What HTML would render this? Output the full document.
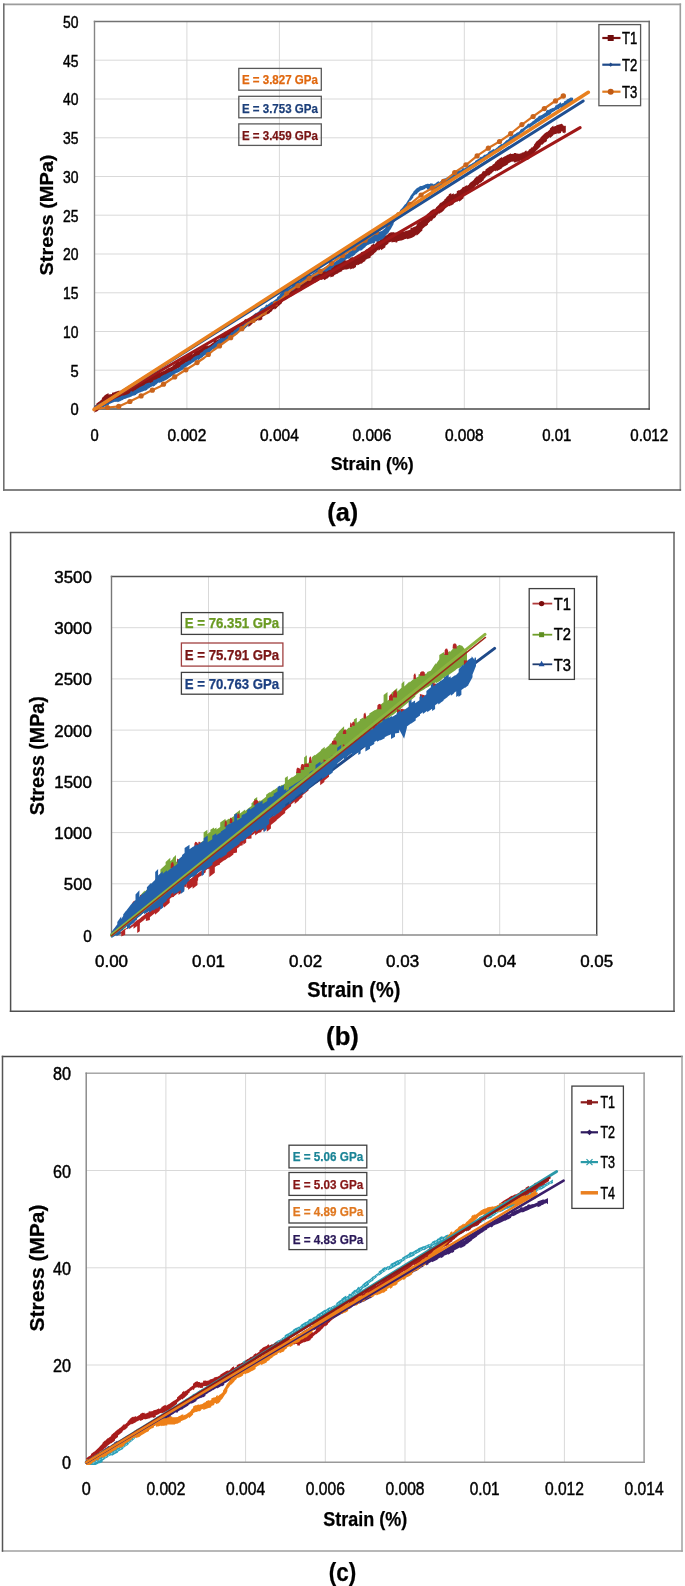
<!DOCTYPE html>
<html><head><meta charset="utf-8"><style>
html,body{margin:0;padding:0;background:#fff;width:685px;height:1586px;overflow:hidden}
text{font-family:"Liberation Sans", sans-serif}
</style></head><body>
<svg width="685" height="1586" viewBox="0 0 685 1586" style="position:absolute;left:0;top:0;filter:blur(0.45px)">
<defs><clipPath id="clipA"><rect x="92" y="21" width="560" height="392"/></clipPath><clipPath id="clipB"><rect x="109" y="576" width="490" height="362"/></clipPath><clipPath id="clipC"><rect x="84" y="1073" width="562" height="392"/></clipPath></defs>
<g font-family='"Liberation Sans", sans-serif'>
<line x1="3.0" y1="4.4" x2="681.1" y2="4.4" stroke="#9c9c9c" stroke-width="1.6"/>
<line x1="680.3" y1="3.6" x2="680.3" y2="490.8" stroke="#9c9c9c" stroke-width="1.6"/>
<line x1="3.0" y1="490.0" x2="681.1" y2="490.0" stroke="#5a5a5a" stroke-width="1.6"/>
<line x1="3.8" y1="3.6" x2="3.8" y2="490.8" stroke="#707070" stroke-width="1.6"/>
<line x1="94.5" y1="370.2" x2="649.2" y2="370.2" stroke="#d9d9d9" stroke-width="1"/>
<line x1="94.5" y1="331.5" x2="649.2" y2="331.5" stroke="#d9d9d9" stroke-width="1"/>
<line x1="94.5" y1="292.8" x2="649.2" y2="292.8" stroke="#d9d9d9" stroke-width="1"/>
<line x1="94.5" y1="254.0" x2="649.2" y2="254.0" stroke="#d9d9d9" stroke-width="1"/>
<line x1="94.5" y1="215.2" x2="649.2" y2="215.2" stroke="#d9d9d9" stroke-width="1"/>
<line x1="94.5" y1="176.5" x2="649.2" y2="176.5" stroke="#d9d9d9" stroke-width="1"/>
<line x1="94.5" y1="137.8" x2="649.2" y2="137.8" stroke="#d9d9d9" stroke-width="1"/>
<line x1="94.5" y1="99.0" x2="649.2" y2="99.0" stroke="#d9d9d9" stroke-width="1"/>
<line x1="94.5" y1="60.2" x2="649.2" y2="60.2" stroke="#d9d9d9" stroke-width="1"/>
<line x1="94.5" y1="21.5" x2="649.2" y2="21.5" stroke="#d9d9d9" stroke-width="1"/>
<line x1="186.9" y1="21.5" x2="186.9" y2="409.0" stroke="#d9d9d9" stroke-width="1"/>
<line x1="279.4" y1="21.5" x2="279.4" y2="409.0" stroke="#d9d9d9" stroke-width="1"/>
<line x1="371.9" y1="21.5" x2="371.9" y2="409.0" stroke="#d9d9d9" stroke-width="1"/>
<line x1="464.3" y1="21.5" x2="464.3" y2="409.0" stroke="#d9d9d9" stroke-width="1"/>
<line x1="556.8" y1="21.5" x2="556.8" y2="409.0" stroke="#d9d9d9" stroke-width="1"/>
<line x1="649.2" y1="21.5" x2="649.2" y2="409.0" stroke="#d9d9d9" stroke-width="1"/>
<line x1="93.8" y1="21.5" x2="649.9" y2="21.5" stroke="#727272" stroke-width="1.4"/>
<line x1="649.2" y1="20.8" x2="649.2" y2="409.7" stroke="#666666" stroke-width="1.4"/>
<line x1="93.8" y1="409.0" x2="649.9" y2="409.0" stroke="#4a4a4a" stroke-width="1.4"/>
<line x1="94.5" y1="20.8" x2="94.5" y2="409.7" stroke="#858585" stroke-width="1.4"/>
<text x="94.5" y="441.2" font-size="15.8" fill="#000" stroke="#000" stroke-width="0.45" text-anchor="middle" textLength="8.2" lengthAdjust="spacingAndGlyphs" >0</text>
<text x="186.9" y="441.2" font-size="15.8" fill="#000" stroke="#000" stroke-width="0.45" text-anchor="middle" textLength="38.8" lengthAdjust="spacingAndGlyphs" >0.002</text>
<text x="279.4" y="441.2" font-size="15.8" fill="#000" stroke="#000" stroke-width="0.45" text-anchor="middle" textLength="38.8" lengthAdjust="spacingAndGlyphs" >0.004</text>
<text x="371.9" y="441.2" font-size="15.8" fill="#000" stroke="#000" stroke-width="0.45" text-anchor="middle" textLength="38.8" lengthAdjust="spacingAndGlyphs" >0.006</text>
<text x="464.3" y="441.2" font-size="15.8" fill="#000" stroke="#000" stroke-width="0.45" text-anchor="middle" textLength="38.8" lengthAdjust="spacingAndGlyphs" >0.008</text>
<text x="556.8" y="441.2" font-size="15.8" fill="#000" stroke="#000" stroke-width="0.45" text-anchor="middle" textLength="29.1" lengthAdjust="spacingAndGlyphs" >0.01</text>
<text x="649.2" y="441.2" font-size="15.8" fill="#000" stroke="#000" stroke-width="0.45" text-anchor="middle" textLength="37.8" lengthAdjust="spacingAndGlyphs" >0.012</text>
<text x="78.6" y="415.4" font-size="15.8" fill="#000" stroke="#000" stroke-width="0.45" text-anchor="end" textLength="8.2" lengthAdjust="spacingAndGlyphs" >0</text>
<text x="78.6" y="376.6" font-size="15.8" fill="#000" stroke="#000" stroke-width="0.45" text-anchor="end" textLength="8.2" lengthAdjust="spacingAndGlyphs" >5</text>
<text x="78.6" y="337.9" font-size="15.8" fill="#000" stroke="#000" stroke-width="0.45" text-anchor="end" textLength="15.5" lengthAdjust="spacingAndGlyphs" >10</text>
<text x="78.6" y="299.1" font-size="15.8" fill="#000" stroke="#000" stroke-width="0.45" text-anchor="end" textLength="15.5" lengthAdjust="spacingAndGlyphs" >15</text>
<text x="78.6" y="260.4" font-size="15.8" fill="#000" stroke="#000" stroke-width="0.45" text-anchor="end" textLength="15.5" lengthAdjust="spacingAndGlyphs" >20</text>
<text x="78.6" y="221.6" font-size="15.8" fill="#000" stroke="#000" stroke-width="0.45" text-anchor="end" textLength="15.5" lengthAdjust="spacingAndGlyphs" >25</text>
<text x="78.6" y="182.9" font-size="15.8" fill="#000" stroke="#000" stroke-width="0.45" text-anchor="end" textLength="15.5" lengthAdjust="spacingAndGlyphs" >30</text>
<text x="78.6" y="144.1" font-size="15.8" fill="#000" stroke="#000" stroke-width="0.45" text-anchor="end" textLength="15.5" lengthAdjust="spacingAndGlyphs" >35</text>
<text x="78.6" y="105.4" font-size="15.8" fill="#000" stroke="#000" stroke-width="0.45" text-anchor="end" textLength="15.5" lengthAdjust="spacingAndGlyphs" >40</text>
<text x="78.6" y="66.6" font-size="15.8" fill="#000" stroke="#000" stroke-width="0.45" text-anchor="end" textLength="15.5" lengthAdjust="spacingAndGlyphs" >45</text>
<text x="78.6" y="27.9" font-size="15.8" fill="#000" stroke="#000" stroke-width="0.45" text-anchor="end" textLength="15.5" lengthAdjust="spacingAndGlyphs" >50</text>
<text x="372.2" y="470.4" font-size="19.2" fill="#000" stroke="#000" stroke-width="0.25" font-weight="bold" text-anchor="middle" textLength="83" lengthAdjust="spacingAndGlyphs" >Strain (%)</text>
<text x="52.6" y="215.0" font-size="19.0" fill="#000" stroke="#000" stroke-width="0.25" font-weight="bold" text-anchor="middle" textLength="121" lengthAdjust="spacingAndGlyphs" transform="rotate(-90 52.6 215.0)" >Stress (MPa)</text>
<text x="342.7" y="520.8" font-size="25" fill="#000" stroke="#000" stroke-width="0.25" font-weight="bold" text-anchor="middle" textLength="31" lengthAdjust="spacingAndGlyphs" >(a)</text>
<g clip-path="url(#clipA)">
<polygon points="94.5,406.1 96.3,404.7 96.3,403.7 98.8,401.8 98.8,402.0 101.9,399.3 101.9,398.1 103.9,396.3 103.9,395.9 106.5,394.1 106.5,394.3 108.5,393.1 108.5,394.5 112.0,393.9 112.0,392.7 114.7,392.3 114.7,391.9 117.2,391.2 117.2,391.2 119.5,390.5 119.5,392.5 121.2,391.9 121.2,391.4 123.8,390.6 123.8,389.5 125.7,388.8 125.7,390.2 127.7,389.1 127.7,390.1 131.1,388.2 131.1,387.9 134.1,386.3 134.1,385.8 135.9,384.9 135.9,385.8 137.8,384.7 137.8,383.7 140.1,382.3 140.1,383.5 142.4,382.1 142.4,380.4 143.9,379.4 143.9,379.6 147.4,377.5 147.4,378.2 150.0,377.0 150.0,376.9 152.7,375.8 152.7,374.7 154.6,374.0 154.6,373.9 157.9,372.6 157.9,371.9 160.1,371.0 160.1,372.5 163.2,370.9 163.2,371.3 166.0,369.8 166.0,369.4 169.5,367.6 169.5,367.9 172.9,365.9 172.9,365.5 175.4,363.7 175.4,363.0 178.6,360.7 178.6,361.9 181.7,359.7 181.7,358.4 184.9,356.3 184.9,356.7 187.0,355.4 187.0,355.4 188.6,354.4 188.6,355.4 192.1,353.3 192.1,354.4 194.1,353.2 194.1,351.3 197.1,349.7 197.1,350.8 200.2,349.2 200.2,348.7 202.9,347.4 202.9,346.8 206.1,345.2 206.1,346.2 208.2,345.0 208.2,345.9 211.1,344.2 211.1,343.9 213.7,342.3 213.7,341.1 216.4,339.5 216.4,340.6 219.8,338.4 219.8,336.9 221.5,335.7 221.5,335.0 223.9,333.4 223.9,333.0 226.7,331.0 226.7,331.8 228.9,330.3 228.9,329.9 230.7,328.7 230.7,329.4 233.6,327.7 233.6,328.9 236.5,327.1 236.5,325.5 239.6,323.6 239.6,324.7 241.3,323.7 241.3,323.0 244.2,321.0 244.2,320.1 246.3,318.7 246.3,320.5 248.4,319.0 248.4,319.0 250.9,317.3 250.9,317.4 252.6,316.3 252.6,317.3 255.6,315.3 255.6,314.7 258.5,312.9 258.5,313.3 260.1,312.3 260.1,311.2 262.3,309.9 262.3,308.7 264.0,307.7 264.0,308.9 267.2,307.0 267.2,305.6 269.9,304.0 269.9,304.6 272.3,303.1 272.3,302.7 274.6,301.3 274.6,301.1 277.0,299.0 277.0,300.2 280.1,297.3 280.1,297.0 282.1,295.1 282.1,296.5 284.8,293.9 284.8,293.4 287.3,291.0 287.3,291.5 290.6,288.6 290.6,288.6 293.6,286.6 293.6,286.6 296.5,284.8 296.5,284.0 299.8,281.9 299.8,283.0 303.0,280.9 303.0,279.8 304.5,278.8 304.5,277.8 306.8,276.4 306.8,276.3 308.4,275.4 308.4,275.8 311.4,274.5 311.4,275.4 314.8,273.9 314.8,274.2 317.0,273.2 317.0,274.2 319.0,273.3 319.0,273.5 321.0,272.7 321.0,271.1 323.9,269.9 323.9,269.6 326.0,268.6 326.0,268.6 328.4,267.3 328.4,266.6 330.4,265.6 330.4,265.3 332.5,264.2 332.5,265.7 334.1,264.9 334.1,263.6 337.0,262.1 337.0,263.0 338.5,262.2 338.5,261.1 340.5,260.4 340.5,260.6 342.2,260.1 342.2,260.4 345.5,259.4 345.5,260.8 348.6,259.9 348.6,258.9 350.2,258.4 350.2,258.0 352.8,256.8 352.8,258.5 356.0,256.6 356.0,256.6 357.5,255.7 357.5,256.1 360.8,254.2 360.8,252.6 362.7,251.5 362.7,252.2 365.4,250.5 365.4,250.1 368.5,248.2 368.5,247.9 370.7,246.6 370.7,245.8 374.0,243.5 374.0,244.7 376.5,242.7 376.5,241.7 378.6,240.1 378.6,241.2 381.0,239.2 381.0,238.2 382.9,237.0 382.9,237.3 385.4,235.5 385.4,236.0 388.4,234.0 388.4,233.4 391.5,232.0 391.5,232.5 393.8,232.0 393.8,232.7 395.6,232.3 395.6,233.0 397.4,232.6 397.4,232.5 400.7,231.7 400.7,232.2 403.8,231.3 403.8,231.7 407.1,230.6 407.1,230.7 410.5,229.6 410.5,228.1 412.0,227.6 412.0,227.9 414.7,226.5 414.7,227.1 416.6,225.5 416.6,224.0 419.8,221.2 419.8,221.9 422.4,219.7 422.4,219.0 425.7,216.3 425.7,215.4 428.0,213.3 428.0,213.4 431.1,210.5 431.1,210.7 432.7,209.3 432.7,210.0 434.2,208.6 434.2,209.6 436.0,208.0 436.0,207.5 439.2,204.5 439.2,204.0 441.2,202.2 441.2,202.8 444.3,200.2 444.3,199.6 446.3,197.9 446.3,197.2 448.8,195.2 448.8,194.2 451.2,193.1 451.2,194.6 453.8,193.3 453.8,194.6 456.8,193.2 456.8,191.2 459.1,190.0 459.1,190.5 461.8,188.8 461.8,188.1 463.6,186.8 463.6,187.2 466.8,185.1 466.8,186.1 469.0,184.5 469.0,183.9 471.4,181.6 471.4,182.1 474.1,179.5 474.1,178.9 477.1,176.0 477.1,176.8 480.2,173.9 480.2,174.4 482.1,173.1 482.1,172.0 483.8,170.8 483.8,171.6 485.5,170.4 485.5,169.4 488.4,167.4 488.4,167.4 490.3,166.1 490.3,166.6 492.3,165.4 492.3,164.9 495.1,163.1 495.1,162.0 496.8,160.9 496.8,160.6 499.2,159.1 499.2,158.7 502.0,157.0 502.0,157.9 504.7,156.3 504.7,156.6 508.1,154.6 508.1,154.7 510.9,153.2 510.9,153.9 513.9,153.8 513.9,153.1 516.4,152.9 516.4,153.7 517.9,153.6 517.9,153.8 519.9,153.7 519.9,153.5 521.6,153.3 521.6,152.8 524.7,152.0 524.7,151.0 526.6,150.6 526.6,151.6 528.4,151.1 528.4,150.3 530.3,148.6 530.3,148.9 532.1,146.8 532.1,147.8 534.0,145.5 534.0,144.8 535.6,142.8 535.6,142.4 537.3,140.4 537.3,141.0 540.5,137.9 540.5,137.6 542.0,136.1 542.0,136.1 545.3,132.8 545.3,133.1 546.9,131.8 546.9,132.2 549.9,129.6 549.9,128.5 553.3,125.6 553.3,126.7 556.3,125.7 556.3,125.3 558.2,124.8 558.2,124.8 561.0,124.0 561.0,123.7 562.6,124.0 562.6,125.1 564.7,126.2 564.7,125.5 565.8,126.1 565.8,132.8 564.7,132.3 564.7,133.5 562.6,132.5 562.6,131.6 561.0,131.4 561.0,133.0 558.2,133.8 558.2,133.3 556.3,133.8 556.3,133.7 553.3,134.7 553.3,135.2 549.9,138.2 549.9,136.9 546.9,139.5 546.9,141.0 545.3,142.4 545.3,141.7 542.0,145.1 542.0,144.3 540.5,145.8 540.5,146.6 537.3,149.7 537.3,149.5 535.6,151.6 535.6,151.6 534.0,153.6 534.0,153.6 532.1,155.9 532.1,156.2 530.3,158.3 530.3,157.7 528.4,159.5 528.4,159.5 526.6,160.0 526.6,158.5 524.7,159.0 524.7,159.4 521.6,160.3 521.6,160.3 519.9,160.6 519.9,161.6 517.9,161.8 517.9,161.7 516.4,161.8 516.4,162.2 513.9,162.4 513.9,161.6 510.9,161.8 510.9,161.9 508.1,163.4 508.1,164.2 504.7,166.2 504.7,166.1 502.0,167.7 502.0,168.2 499.2,169.9 499.2,169.8 496.8,171.3 496.8,170.3 495.1,171.5 495.1,170.5 492.3,172.2 492.3,172.9 490.3,174.1 490.3,174.6 488.4,175.9 488.4,175.0 485.5,177.0 485.5,177.7 483.8,179.0 483.8,180.2 482.1,181.3 482.1,181.8 480.2,183.1 480.2,182.6 477.1,185.7 477.1,184.5 474.1,187.5 474.1,188.7 471.4,191.5 471.4,190.6 469.0,193.1 469.0,192.6 466.8,194.3 466.8,194.1 463.6,196.3 463.6,198.2 461.8,199.6 461.8,199.7 459.1,201.7 459.1,200.6 456.8,202.0 456.8,201.6 453.8,203.2 453.8,204.0 451.2,205.4 451.2,205.2 448.8,206.5 448.8,205.7 446.3,207.8 446.3,207.6 444.3,209.5 444.3,209.9 441.2,212.7 441.2,212.2 439.2,214.0 439.2,213.1 436.0,216.1 436.0,216.8 434.2,218.4 434.2,217.9 432.7,219.3 432.7,219.9 431.1,221.3 431.1,220.6 428.0,223.4 428.0,224.4 425.7,226.4 425.7,226.1 422.4,228.9 422.4,230.6 419.8,232.8 419.8,232.9 416.6,235.7 416.6,234.6 414.7,236.1 414.7,236.3 412.0,237.8 412.0,237.7 410.5,238.2 410.5,238.2 407.1,239.3 407.1,238.4 403.8,239.5 403.8,239.7 400.7,240.7 400.7,240.4 397.4,241.2 397.4,242.2 395.6,242.7 395.6,241.8 393.8,242.2 393.8,242.0 391.5,242.5 391.5,241.4 388.4,242.8 388.4,243.7 385.4,245.7 385.4,247.3 382.9,249.0 382.9,248.9 381.0,250.2 381.0,248.8 378.6,250.8 378.6,249.4 376.5,251.0 376.5,251.6 374.0,253.6 374.0,253.9 370.7,256.2 370.7,257.4 368.5,258.7 368.5,258.2 365.4,260.1 365.4,260.9 362.7,262.5 362.7,263.1 360.8,264.1 360.8,263.5 357.5,265.4 357.5,264.5 356.0,265.4 356.0,267.1 352.8,268.9 352.8,268.2 350.2,269.4 350.2,268.4 348.6,268.8 348.6,268.9 345.5,269.8 345.5,269.2 342.2,270.2 342.2,271.2 340.5,271.7 340.5,272.1 338.5,272.8 338.5,273.1 337.0,273.9 337.0,273.8 334.1,275.3 334.1,276.1 332.5,276.9 332.5,276.4 330.4,277.4 330.4,276.3 328.4,277.3 328.4,278.0 326.0,279.1 326.0,279.3 323.9,280.2 323.9,278.9 321.0,280.0 321.0,279.2 319.0,279.9 319.0,280.6 317.0,281.4 317.0,281.8 314.8,282.7 314.8,281.7 311.4,283.0 311.4,283.6 308.4,284.7 308.4,286.4 306.8,287.2 306.8,286.1 304.5,287.5 304.5,287.5 303.0,288.4 303.0,289.6 299.8,291.5 299.8,290.3 296.5,292.3 296.5,292.0 293.6,293.7 293.6,294.9 290.6,296.7 290.6,296.0 287.3,298.8 287.3,298.4 284.8,300.6 284.8,299.5 282.1,302.0 282.1,303.0 280.1,304.8 280.1,304.7 277.0,307.6 277.0,307.7 274.6,309.7 274.6,308.6 272.3,310.0 272.3,311.1 269.9,312.5 269.9,312.9 267.2,314.6 267.2,314.1 264.0,316.0 264.0,316.1 262.3,317.1 262.3,319.2 260.1,320.5 260.1,319.9 258.5,320.9 258.5,319.6 255.6,321.4 255.6,321.1 252.6,323.1 252.6,323.8 250.9,324.9 250.9,325.3 248.4,327.0 248.4,325.5 246.3,326.9 246.3,327.3 244.2,328.8 244.2,329.1 241.3,331.0 241.3,330.0 239.6,331.0 239.6,331.8 236.5,333.7 236.5,333.7 233.6,335.5 233.6,334.0 230.7,335.8 230.7,336.6 228.9,337.9 228.9,337.8 226.7,339.3 226.7,340.1 223.9,342.1 223.9,342.0 221.5,343.7 221.5,341.8 219.8,343.0 219.8,343.7 216.4,345.8 216.4,346.7 213.7,348.3 213.7,348.5 211.1,350.1 211.1,348.3 208.2,350.0 208.2,350.7 206.1,351.9 206.1,353.3 202.9,354.9 202.9,355.1 200.2,356.5 200.2,356.6 197.1,358.2 197.1,356.9 194.1,358.4 194.1,359.3 192.1,360.4 192.1,360.4 188.6,362.5 188.6,362.8 187.0,363.7 187.0,362.0 184.9,363.3 184.9,363.7 181.7,365.8 181.7,366.1 178.6,368.3 178.6,367.8 175.4,370.1 175.4,371.3 172.9,373.0 172.9,374.6 169.5,376.5 169.5,376.3 166.0,378.1 166.0,377.1 163.2,378.5 163.2,377.1 160.1,378.6 160.1,378.4 157.9,379.3 157.9,380.4 154.6,381.7 154.6,381.3 152.7,382.0 152.7,382.4 150.0,383.5 150.0,382.9 147.4,384.1 147.4,385.0 143.9,387.1 143.9,387.4 142.4,388.3 142.4,387.8 140.1,389.1 140.1,389.8 137.8,391.1 137.8,392.1 135.9,393.2 135.9,392.8 134.1,393.8 134.1,393.4 131.1,395.0 131.1,394.7 127.7,396.6 127.7,395.8 125.7,396.9 125.7,398.2 123.8,398.9 123.8,398.1 121.2,398.8 121.2,399.2 119.5,399.7 119.5,400.5 117.2,401.2 117.2,400.9 114.7,401.6 114.7,400.3 112.0,400.7 112.0,401.5 108.5,402.1 108.5,400.7 106.5,402.0 106.5,403.5 103.9,405.2 103.9,404.4 101.9,406.2 101.9,406.8 98.8,409.6 98.8,410.0 96.3,411.9 96.3,411.3 94.5,412.8" fill="#8a1515" />
<polygon points="94.5,406.0 97.9,404.4 97.9,404.2 101.4,402.6 101.4,402.8 104.2,401.5 104.2,402.7 106.2,401.8 106.2,402.3 108.9,401.1 108.9,401.0 112.2,399.6 112.2,399.3 115.5,398.1 115.5,398.4 117.4,397.7 117.4,397.7 120.7,396.4 120.7,396.3 123.4,395.3 123.4,395.7 125.4,394.9 125.4,395.1 128.5,393.9 128.5,393.8 130.2,393.1 130.2,391.7 132.1,390.9 132.1,391.8 133.7,391.2 133.7,390.7 136.2,389.7 136.2,389.2 139.5,387.6 139.5,387.3 142.2,386.0 142.2,386.1 144.8,384.8 144.8,384.3 147.4,383.0 147.4,383.3 149.6,382.2 149.6,383.3 152.9,381.7 152.9,380.7 155.2,379.5 155.2,379.8 157.1,378.9 157.1,378.7 159.2,377.7 159.2,377.9 160.8,377.0 160.8,376.6 163.6,375.0 163.6,375.1 165.2,374.2 165.2,374.4 168.5,372.5 168.5,372.7 171.0,371.3 171.0,371.7 174.5,369.8 174.5,369.8 177.5,368.2 177.5,368.5 180.5,366.8 180.5,365.5 183.9,363.6 183.9,363.5 186.7,361.8 186.7,361.9 189.6,360.1 189.6,361.1 191.2,360.1 191.2,359.3 192.9,358.2 192.9,357.7 196.1,355.7 196.1,356.0 197.8,354.9 197.8,355.6 200.0,354.2 200.0,353.2 203.2,351.3 203.2,350.8 206.4,348.8 206.4,349.2 208.9,347.5 208.9,347.8 211.8,345.7 211.8,345.5 213.8,344.1 213.8,343.8 216.6,341.8 216.6,341.5 219.4,339.5 219.4,339.3 222.1,337.4 222.1,338.6 223.7,337.5 223.7,338.5 226.4,336.5 226.4,336.2 228.4,334.8 228.4,335.2 230.6,333.7 230.6,333.0 232.1,332.0 232.1,332.4 233.9,331.1 233.9,330.5 236.5,328.7 236.5,328.1 239.1,326.3 239.1,327.2 240.9,325.9 240.9,326.3 243.8,324.2 243.8,323.7 245.7,322.3 245.7,322.0 248.7,319.6 248.7,319.0 250.6,317.5 250.6,317.3 252.8,315.5 252.8,315.3 256.3,312.6 256.3,313.2 259.5,310.7 259.5,310.0 262.5,307.5 262.5,308.6 265.4,306.3 265.4,305.5 267.1,304.2 267.1,305.3 269.6,303.3 269.6,303.3 271.9,301.5 271.9,302.1 274.1,300.4 274.1,300.6 277.1,298.2 277.1,297.3 279.9,295.0 279.9,294.1 281.8,292.5 281.8,292.0 283.9,290.3 283.9,290.8 285.6,289.4 285.6,289.7 287.5,288.2 287.5,289.0 289.7,287.2 289.7,287.7 292.3,286.1 292.3,284.8 294.5,283.5 294.5,283.2 297.1,281.7 297.1,281.7 299.0,280.5 299.0,281.7 300.6,280.8 300.6,280.5 302.4,279.4 302.4,278.5 304.9,277.0 304.9,278.1 307.1,276.7 307.1,276.8 309.6,275.3 309.6,275.6 312.4,274.2 312.4,273.4 314.6,272.3 314.6,271.7 316.3,270.9 316.3,270.7 319.4,269.2 319.4,269.9 322.1,268.5 322.1,268.8 325.5,267.1 325.5,267.4 327.5,266.2 327.5,265.9 329.6,264.6 329.6,264.4 331.5,263.3 331.5,263.9 334.1,262.2 334.1,262.5 337.3,260.3 337.3,260.3 339.9,258.6 339.9,257.8 342.6,256.1 342.6,256.6 344.8,255.3 344.8,255.2 348.3,253.0 348.3,252.1 350.6,250.6 350.6,251.1 352.2,249.9 352.2,249.2 355.2,246.8 355.2,246.6 358.2,244.3 358.2,244.9 360.4,243.1 360.4,243.1 361.9,241.9 361.9,242.7 363.7,241.3 363.7,240.2 365.6,238.7 365.6,238.3 368.0,236.3 368.0,236.3 370.5,234.7 370.5,235.5 372.9,234.3 372.9,233.8 374.9,233.2 374.9,232.8 376.5,232.3 376.5,232.8 379.6,231.8 379.6,231.7 382.4,230.8 382.4,230.6 385.4,227.9 385.4,227.4 387.7,225.3 387.7,225.2 390.3,221.5 390.3,222.1 393.6,217.0 393.6,217.4 396.5,213.8 396.5,214.6 399.9,211.3 399.9,210.2 402.2,207.9 402.2,208.0 405.4,203.8 405.4,204.6 408.1,200.1 408.1,200.2 410.2,196.8 410.2,196.2 413.3,192.3 413.3,191.7 415.7,189.3 415.7,189.2 417.5,187.5 417.5,188.1 420.6,185.7 420.6,186.2 423.4,185.5 423.4,185.2 425.0,184.8 425.0,184.6 426.9,184.1 426.9,183.8 430.2,184.0 430.2,183.3 433.2,183.8 433.2,184.4 436.3,183.1 436.3,182.5 438.8,181.1 438.8,182.3 440.9,181.0 440.9,180.7 442.6,179.7 442.6,179.5 444.6,178.3 444.6,178.8 446.4,177.8 446.4,177.7 449.7,175.9 449.7,175.6 452.7,173.9 452.7,173.7 454.4,172.7 454.4,172.7 457.4,171.1 457.4,170.6 459.5,169.4 459.5,170.7 461.7,169.4 461.7,168.7 463.7,167.6 463.7,168.7 467.1,166.8 467.1,166.5 468.7,165.5 468.7,165.3 470.4,164.2 470.4,164.6 471.9,163.7 471.9,163.5 475.0,161.7 475.0,160.9 477.5,159.4 477.5,159.4 479.5,158.2 479.5,157.7 481.3,156.5 481.3,157.2 483.3,155.9 483.3,155.5 485.3,154.2 485.3,155.0 488.1,153.1 488.1,152.3 490.8,150.6 490.8,150.8 493.9,148.8 493.9,149.8 496.2,148.2 496.2,148.1 497.9,147.0 497.9,146.5 500.2,144.9 500.2,144.8 501.9,143.4 501.9,144.4 505.1,141.8 505.1,141.4 507.1,139.7 507.1,140.3 509.2,138.6 509.2,137.6 511.2,136.0 511.2,136.8 514.7,134.1 514.7,134.4 517.6,132.1 517.6,132.7 520.1,130.8 520.1,130.1 522.1,128.5 522.1,128.9 524.4,127.2 524.4,127.3 526.9,125.3 526.9,124.8 529.1,123.3 529.1,123.9 532.0,121.9 532.0,121.7 534.6,119.9 534.6,119.6 538.0,117.2 538.0,116.8 540.3,115.2 540.3,115.8 542.6,114.4 542.6,114.4 546.0,112.3 546.0,111.0 548.2,109.6 548.2,110.3 551.2,108.4 551.2,108.7 552.8,107.7 552.8,108.2 555.1,107.1 555.1,105.8 557.5,104.7 557.5,104.4 559.4,103.5 559.4,103.1 561.0,102.3 561.0,103.7 564.0,102.4 564.0,101.5 566.5,100.2 566.5,99.7 568.3,98.7 568.3,98.9 571.5,97.0 571.5,98.3 573.0,97.4 573.0,102.6 571.5,103.5 571.5,103.5 568.3,105.3 568.3,104.8 566.5,105.8 566.5,106.0 564.0,107.4 564.0,106.9 561.0,108.3 561.0,107.4 559.4,108.1 559.4,108.7 557.5,109.6 557.5,109.2 555.1,110.4 555.1,110.8 552.8,111.9 552.8,112.1 551.2,113.1 551.2,113.8 548.2,115.7 548.2,115.5 546.0,116.9 546.0,116.8 542.6,118.9 542.6,119.1 540.3,120.6 540.3,120.5 538.0,122.1 538.0,121.8 534.6,124.2 534.6,124.1 532.0,125.9 532.0,126.0 529.1,128.0 529.1,127.3 526.9,128.8 526.9,128.4 524.4,130.4 524.4,131.0 522.1,132.7 522.1,132.6 520.1,134.1 520.1,135.2 517.6,137.1 517.6,136.9 514.7,139.2 514.7,138.9 511.2,141.6 511.2,142.1 509.2,143.7 509.2,143.5 507.1,145.2 507.1,144.0 505.1,145.6 505.1,146.2 501.9,148.8 501.9,149.3 500.2,150.7 500.2,150.8 497.9,152.3 497.9,151.8 496.2,153.0 496.2,151.7 493.9,153.2 493.9,153.5 490.8,155.5 490.8,156.1 488.1,157.8 488.1,158.2 485.3,160.0 485.3,160.1 483.3,161.4 483.3,161.1 481.3,162.4 481.3,162.2 479.5,163.4 479.5,162.9 477.5,164.1 477.5,165.0 475.0,166.5 475.0,166.6 471.9,168.4 471.9,168.8 470.4,169.7 470.4,169.5 468.7,170.5 468.7,169.9 467.1,170.9 467.1,170.3 463.7,172.2 463.7,172.3 461.7,173.3 461.7,173.4 459.5,174.7 459.5,175.0 457.4,176.2 457.4,176.5 454.4,178.1 454.4,177.4 452.7,178.3 452.7,178.5 449.7,180.2 449.7,180.4 446.4,182.2 446.4,182.0 444.6,183.0 444.6,183.3 442.6,184.5 442.6,184.4 440.9,185.4 440.9,186.4 438.8,187.7 438.8,187.1 436.3,188.5 436.3,189.7 433.2,191.0 433.2,190.7 430.2,190.2 430.2,189.5 426.9,189.4 426.9,188.1 425.0,188.6 425.0,189.0 423.4,189.4 423.4,189.7 420.6,190.4 420.6,190.5 417.5,192.9 417.5,193.3 415.7,195.0 415.7,194.1 413.3,196.5 413.3,197.4 410.2,201.3 410.2,200.1 408.1,203.5 408.1,204.0 405.4,208.5 405.4,208.9 402.2,213.1 402.2,213.5 399.9,215.8 399.9,215.5 396.5,218.9 396.5,218.9 393.6,222.9 393.6,224.1 390.3,230.0 390.3,229.6 387.7,233.9 387.7,233.2 385.4,235.9 385.4,236.5 382.4,239.6 382.4,239.2 379.6,240.4 379.6,240.8 376.5,242.1 376.5,241.1 374.9,241.8 374.9,242.9 372.9,243.8 372.9,243.1 370.5,244.1 370.5,243.7 368.0,245.0 368.0,244.7 365.6,246.4 365.6,247.1 363.7,248.3 363.7,248.6 361.9,249.9 361.9,250.0 360.4,251.0 360.4,250.1 358.2,251.7 358.2,251.8 355.2,253.9 355.2,254.6 352.2,256.8 352.2,256.3 350.6,257.3 350.6,257.7 348.3,259.0 348.3,258.3 344.8,260.2 344.8,260.6 342.6,261.8 342.6,262.0 339.9,263.5 339.9,263.4 337.3,264.8 337.3,264.5 334.1,266.3 334.1,266.8 331.5,268.4 331.5,269.2 329.6,270.3 329.6,269.7 327.5,271.0 327.5,271.0 325.5,272.2 325.5,271.0 322.1,272.6 322.1,272.5 319.4,273.8 319.4,274.5 316.3,276.0 316.3,275.8 314.6,276.6 314.6,276.2 312.4,277.3 312.4,278.2 309.6,279.6 309.6,278.9 307.1,280.4 307.1,281.3 304.9,282.6 304.9,282.5 302.4,284.0 302.4,284.6 300.6,285.7 300.6,285.2 299.0,286.2 299.0,285.3 297.1,286.5 297.1,287.0 294.5,288.6 294.5,289.8 292.3,291.1 292.3,290.6 289.7,292.2 289.7,291.2 287.5,292.9 287.5,293.1 285.6,294.6 285.6,294.6 283.9,296.0 283.9,296.3 281.8,298.0 281.8,298.8 279.9,300.4 279.9,299.7 277.1,301.9 277.1,302.9 274.1,305.3 274.1,305.3 271.9,307.0 271.9,306.6 269.6,308.5 269.6,308.4 267.1,310.4 267.1,309.6 265.4,311.0 265.4,312.1 262.5,314.4 262.5,314.2 259.5,316.6 259.5,315.9 256.3,318.4 256.3,318.4 252.8,321.2 252.8,321.0 250.6,322.8 250.6,322.6 248.7,324.1 248.7,325.3 245.7,327.7 245.7,328.0 243.8,329.4 243.8,329.2 240.9,331.2 240.9,330.4 239.1,331.7 239.1,331.7 236.5,333.5 236.5,334.5 233.9,336.3 233.9,336.1 232.1,337.5 232.1,336.9 230.6,338.0 230.6,337.9 228.4,339.5 228.4,338.6 226.4,340.0 226.4,340.7 223.7,342.7 223.7,341.6 222.1,342.7 222.1,343.7 219.4,345.6 219.4,345.7 216.6,347.7 216.6,347.8 213.8,349.8 213.8,348.6 211.8,350.0 211.8,350.6 208.9,352.7 208.9,353.2 206.4,355.0 206.4,354.2 203.2,356.2 203.2,356.7 200.0,358.7 200.0,359.1 197.8,360.4 197.8,359.2 196.1,360.3 196.1,360.4 192.9,362.4 192.9,362.5 191.2,363.5 191.2,363.7 189.6,364.7 189.6,364.6 186.7,366.4 186.7,366.5 183.9,368.3 183.9,368.9 180.5,370.9 180.5,370.9 177.5,372.7 177.5,372.4 174.5,374.1 174.5,374.5 171.0,376.4 171.0,376.8 168.5,378.2 168.5,378.6 165.2,380.5 165.2,380.3 163.6,381.2 163.6,380.9 160.8,382.4 160.8,382.2 159.2,383.1 159.2,382.3 157.1,383.4 157.1,384.0 155.2,384.9 155.2,385.6 152.9,386.8 152.9,386.1 149.6,387.8 149.6,388.0 147.4,389.1 147.4,389.8 144.8,391.1 144.8,390.4 142.2,391.7 142.2,391.4 139.5,392.8 139.5,392.6 136.2,394.2 136.2,394.7 133.7,395.7 133.7,395.4 132.1,396.0 132.1,396.2 130.2,396.9 130.2,397.0 128.5,397.7 128.5,397.5 125.4,398.7 125.4,398.4 123.4,399.2 123.4,399.8 120.7,400.8 120.7,401.0 117.4,402.3 117.4,401.4 115.5,402.1 115.5,401.6 112.2,402.8 112.2,402.8 108.9,404.2 108.9,405.1 106.2,406.3 106.2,405.9 104.2,406.8 104.2,407.2 101.4,408.4 101.4,407.2 97.9,408.7 97.9,409.0 94.5,410.5" fill="#2563a8" />
<polyline points="94.5,409.0 107.5,407.5 119.2,406.3 129.7,401.6 139.0,397.0 148.4,392.0 160.1,386.5 170.6,379.5 182.3,372.0 192.8,365.5 204.0,358.0 213.8,350.0 225.5,341.5 237.2,333.0 247.7,323.4 259.3,316.9 269.0,309.0 280.0,300.0 290.8,290.1 302.2,283.0 312.8,275.8 323.3,269.7 335.0,260.5 347.0,252.5 359.0,244.5 371.0,236.0 383.0,227.5 395.2,218.0 409.0,205.0 422.5,193.8 433.7,187.3 445.0,180.5 456.2,171.3 467.4,163.8 477.7,155.4 488.9,147.8 500.1,141.1 509.7,134.5 521.0,125.3 532.8,116.7 543.0,109.5 553.0,102.5 563.8,95.7" fill="none" stroke="#d9721f" stroke-width="2.2" stroke-linejoin="round" stroke-linecap="round" />
<circle cx="107.5" cy="407.5" r="2.6" fill="#c9641c"/>
<circle cx="118.7" cy="406.4" r="2.6" fill="#c9641c"/>
<circle cx="129.9" cy="401.5" r="2.6" fill="#c9641c"/>
<circle cx="141.1" cy="395.9" r="2.6" fill="#c9641c"/>
<circle cx="152.3" cy="390.2" r="2.6" fill="#c9641c"/>
<circle cx="163.5" cy="384.2" r="2.6" fill="#c9641c"/>
<circle cx="174.7" cy="376.9" r="2.6" fill="#c9641c"/>
<circle cx="185.9" cy="369.8" r="2.6" fill="#c9641c"/>
<circle cx="197.1" cy="362.6" r="2.6" fill="#c9641c"/>
<circle cx="208.3" cy="354.5" r="2.6" fill="#c9641c"/>
<circle cx="219.5" cy="345.9" r="2.6" fill="#c9641c"/>
<circle cx="230.7" cy="337.7" r="2.6" fill="#c9641c"/>
<circle cx="241.9" cy="328.7" r="2.6" fill="#c9641c"/>
<circle cx="253.1" cy="320.4" r="2.6" fill="#c9641c"/>
<circle cx="264.3" cy="312.8" r="2.6" fill="#c9641c"/>
<circle cx="275.5" cy="303.7" r="2.6" fill="#c9641c"/>
<circle cx="286.7" cy="293.9" r="2.6" fill="#c9641c"/>
<circle cx="297.9" cy="285.7" r="2.6" fill="#c9641c"/>
<circle cx="309.1" cy="278.3" r="2.6" fill="#c9641c"/>
<circle cx="320.3" cy="271.4" r="2.6" fill="#c9641c"/>
<circle cx="331.5" cy="263.3" r="2.6" fill="#c9641c"/>
<circle cx="342.7" cy="255.4" r="2.6" fill="#c9641c"/>
<circle cx="353.9" cy="247.9" r="2.6" fill="#c9641c"/>
<circle cx="365.1" cy="240.2" r="2.6" fill="#c9641c"/>
<circle cx="376.3" cy="232.2" r="2.6" fill="#c9641c"/>
<circle cx="387.5" cy="224.0" r="2.6" fill="#c9641c"/>
<circle cx="398.7" cy="214.7" r="2.6" fill="#c9641c"/>
<circle cx="409.9" cy="204.3" r="2.6" fill="#c9641c"/>
<circle cx="421.1" cy="195.0" r="2.6" fill="#c9641c"/>
<circle cx="432.3" cy="188.1" r="2.6" fill="#c9641c"/>
<circle cx="443.5" cy="181.4" r="2.6" fill="#c9641c"/>
<circle cx="454.7" cy="172.5" r="2.6" fill="#c9641c"/>
<circle cx="465.9" cy="164.8" r="2.6" fill="#c9641c"/>
<circle cx="477.1" cy="155.9" r="2.6" fill="#c9641c"/>
<circle cx="488.3" cy="148.2" r="2.6" fill="#c9641c"/>
<circle cx="499.5" cy="141.5" r="2.6" fill="#c9641c"/>
<circle cx="510.7" cy="133.7" r="2.6" fill="#c9641c"/>
<circle cx="521.9" cy="124.6" r="2.6" fill="#c9641c"/>
<circle cx="533.1" cy="116.5" r="2.6" fill="#c9641c"/>
<circle cx="544.3" cy="108.6" r="2.6" fill="#c9641c"/>
<circle cx="555.5" cy="100.9" r="2.6" fill="#c9641c"/>
<circle cx="563.3" cy="96" r="2.7" fill="#c9641c"/>
<polyline points="94.5,409.0 580.1,127.6" fill="none" stroke="#a01818" stroke-width="3" stroke-linejoin="round" stroke-linecap="round" />
<polyline points="94.5,409.0 583.2,101.0" fill="none" stroke="#1f4f92" stroke-width="3" stroke-linejoin="round" stroke-linecap="round" />
<polyline points="94.0,409.5 588.3,92.3" fill="none" stroke="#e8801f" stroke-width="3.5" stroke-linejoin="round" stroke-linecap="round" />
</g>
<rect x="238.8" y="68.4" width="82.5" height="21.8" fill="none" stroke="#595959" stroke-width="1.3"/>
<text x="279.9" y="84.4" font-size="13.3" fill="#e0680f" stroke="#e0680f" stroke-width="0.25" font-weight="bold" text-anchor="middle" textLength="76" lengthAdjust="spacingAndGlyphs" >E = 3.827 GPa</text>
<rect x="238.8" y="96.3" width="82.5" height="21.5" fill="none" stroke="#595959" stroke-width="1.3"/>
<text x="279.9" y="112.7" font-size="13.3" fill="#1c3f7a" stroke="#1c3f7a" stroke-width="0.25" font-weight="bold" text-anchor="middle" textLength="76" lengthAdjust="spacingAndGlyphs" >E = 3.753 GPa</text>
<rect x="238.8" y="123.9" width="82.5" height="21.5" fill="none" stroke="#595959" stroke-width="1.3"/>
<text x="279.9" y="139.8" font-size="13.3" fill="#781414" stroke="#781414" stroke-width="0.25" font-weight="bold" text-anchor="middle" textLength="76" lengthAdjust="spacingAndGlyphs" >E = 3.459 GPa</text>
<rect x="598.9" y="24.6" width="41.7" height="81.1" fill="#fff" stroke="#595959" stroke-width="1.3"/>
<line x1="602.3" y1="38.0" x2="620.5" y2="38.0" stroke="#7a1010" stroke-width="2.2"/>
<rect x="607.7" y="35.0" width="6" height="6" fill="#6e0c0c"/>
<text x="621.9" y="43.9" font-size="16.3" fill="#000" stroke="#000" stroke-width="0.45" textLength="15.3" lengthAdjust="spacingAndGlyphs" >T1</text>
<line x1="602.3" y1="64.7" x2="620.5" y2="64.7" stroke="#1f4a8a" stroke-width="2.2"/>
<rect x="609.2" y="63.2" width="3" height="3" fill="#1f4a8a" transform="rotate(45 610.7 64.7)"/>
<text x="621.9" y="71.3" font-size="16.3" fill="#000" stroke="#000" stroke-width="0.45" textLength="15.3" lengthAdjust="spacingAndGlyphs" >T2</text>
<line x1="602.3" y1="91.7" x2="620.5" y2="91.7" stroke="#e07b20" stroke-width="2.2"/>
<circle cx="610.7" cy="91.7" r="3" fill="#c05a14"/>
<text x="621.9" y="98.2" font-size="16.3" fill="#000" stroke="#000" stroke-width="0.45" textLength="15.3" lengthAdjust="spacingAndGlyphs" >T3</text>
<line x1="9.8" y1="532.6" x2="674.8" y2="532.6" stroke="#5a5a5a" stroke-width="1.5"/>
<line x1="674.0" y1="531.9" x2="674.0" y2="1012.0" stroke="#606060" stroke-width="1.5"/>
<line x1="9.8" y1="1011.3" x2="674.8" y2="1011.3" stroke="#505050" stroke-width="1.5"/>
<line x1="10.6" y1="531.9" x2="10.6" y2="1012.0" stroke="#505050" stroke-width="1.5"/>
<line x1="111.5" y1="883.8" x2="596.7" y2="883.8" stroke="#d9d9d9" stroke-width="1"/>
<line x1="111.5" y1="832.6" x2="596.7" y2="832.6" stroke="#d9d9d9" stroke-width="1"/>
<line x1="111.5" y1="781.4" x2="596.7" y2="781.4" stroke="#d9d9d9" stroke-width="1"/>
<line x1="111.5" y1="730.1" x2="596.7" y2="730.1" stroke="#d9d9d9" stroke-width="1"/>
<line x1="111.5" y1="678.9" x2="596.7" y2="678.9" stroke="#d9d9d9" stroke-width="1"/>
<line x1="111.5" y1="627.7" x2="596.7" y2="627.7" stroke="#d9d9d9" stroke-width="1"/>
<line x1="111.5" y1="576.5" x2="596.7" y2="576.5" stroke="#d9d9d9" stroke-width="1"/>
<line x1="208.5" y1="576.5" x2="208.5" y2="935.0" stroke="#d9d9d9" stroke-width="1"/>
<line x1="305.6" y1="576.5" x2="305.6" y2="935.0" stroke="#d9d9d9" stroke-width="1"/>
<line x1="402.6" y1="576.5" x2="402.6" y2="935.0" stroke="#d9d9d9" stroke-width="1"/>
<line x1="499.7" y1="576.5" x2="499.7" y2="935.0" stroke="#d9d9d9" stroke-width="1"/>
<line x1="596.7" y1="576.5" x2="596.7" y2="935.0" stroke="#d9d9d9" stroke-width="1"/>
<line x1="110.8" y1="576.5" x2="597.4" y2="576.5" stroke="#505050" stroke-width="1.4"/>
<line x1="596.7" y1="575.8" x2="596.7" y2="935.7" stroke="#454545" stroke-width="1.4"/>
<line x1="110.8" y1="935.0" x2="597.4" y2="935.0" stroke="#8a8a8a" stroke-width="1.4"/>
<line x1="111.5" y1="575.8" x2="111.5" y2="935.7" stroke="#777777" stroke-width="1.4"/>
<text x="111.5" y="967.3" font-size="16" fill="#000" stroke="#000" stroke-width="0.45" text-anchor="middle" textLength="33" lengthAdjust="spacingAndGlyphs" >0.00</text>
<text x="208.5" y="967.3" font-size="16" fill="#000" stroke="#000" stroke-width="0.45" text-anchor="middle" textLength="33" lengthAdjust="spacingAndGlyphs" >0.01</text>
<text x="305.6" y="967.3" font-size="16" fill="#000" stroke="#000" stroke-width="0.45" text-anchor="middle" textLength="33" lengthAdjust="spacingAndGlyphs" >0.02</text>
<text x="402.6" y="967.3" font-size="16" fill="#000" stroke="#000" stroke-width="0.45" text-anchor="middle" textLength="33" lengthAdjust="spacingAndGlyphs" >0.03</text>
<text x="499.7" y="967.3" font-size="16" fill="#000" stroke="#000" stroke-width="0.45" text-anchor="middle" textLength="33" lengthAdjust="spacingAndGlyphs" >0.04</text>
<text x="596.7" y="967.3" font-size="16" fill="#000" stroke="#000" stroke-width="0.45" text-anchor="middle" textLength="33" lengthAdjust="spacingAndGlyphs" >0.05</text>
<text x="91.8" y="941.5" font-size="16" fill="#000" stroke="#000" stroke-width="0.45" text-anchor="end" textLength="8.5" lengthAdjust="spacingAndGlyphs" >0</text>
<text x="91.8" y="890.3" font-size="16" fill="#000" stroke="#000" stroke-width="0.45" text-anchor="end" textLength="28" lengthAdjust="spacingAndGlyphs" >500</text>
<text x="91.8" y="839.0" font-size="16" fill="#000" stroke="#000" stroke-width="0.45" text-anchor="end" textLength="37.5" lengthAdjust="spacingAndGlyphs" >1000</text>
<text x="91.8" y="787.8" font-size="16" fill="#000" stroke="#000" stroke-width="0.45" text-anchor="end" textLength="37.5" lengthAdjust="spacingAndGlyphs" >1500</text>
<text x="91.8" y="736.6" font-size="16" fill="#000" stroke="#000" stroke-width="0.45" text-anchor="end" textLength="37.5" lengthAdjust="spacingAndGlyphs" >2000</text>
<text x="91.8" y="685.4" font-size="16" fill="#000" stroke="#000" stroke-width="0.45" text-anchor="end" textLength="37.5" lengthAdjust="spacingAndGlyphs" >2500</text>
<text x="91.8" y="634.2" font-size="16" fill="#000" stroke="#000" stroke-width="0.45" text-anchor="end" textLength="37.5" lengthAdjust="spacingAndGlyphs" >3000</text>
<text x="91.8" y="583.0" font-size="16" fill="#000" stroke="#000" stroke-width="0.45" text-anchor="end" textLength="37.5" lengthAdjust="spacingAndGlyphs" >3500</text>
<text x="353.8" y="996.8" font-size="21.5" fill="#000" stroke="#000" stroke-width="0.25" font-weight="bold" text-anchor="middle" textLength="93" lengthAdjust="spacingAndGlyphs" >Strain (%)</text>
<text x="44.5" y="755.7" font-size="21.0" fill="#000" stroke="#000" stroke-width="0.25" font-weight="bold" text-anchor="middle" textLength="119" lengthAdjust="spacingAndGlyphs" transform="rotate(-90 44.5 755.7)" >Stress (MPa)</text>
<text x="342.5" y="1045.2" font-size="25" fill="#000" stroke="#000" stroke-width="0.25" font-weight="bold" text-anchor="middle" textLength="32.8" lengthAdjust="spacingAndGlyphs" >(b)</text>
<g clip-path="url(#clipB)">
<polygon points="118.0,933.5 122.3,931.0 122.3,930.6 128.2,927.1 128.2,927.4 133.4,923.7 133.4,923.3 138.2,919.6 138.2,919.7 140.8,917.7 140.8,917.6 145.9,913.7 145.9,913.7 150.1,910.5 150.1,911.1 155.6,906.6 155.6,907.0 159.5,903.8 159.5,903.8 162.2,901.6 162.2,900.9 167.8,896.3 167.8,896.4 172.8,892.3 172.8,892.0 178.6,887.3 178.6,887.8 183.0,884.4 183.0,884.1 187.7,880.4 187.7,880.9 190.5,878.7 190.5,879.0 194.7,875.8 194.7,875.7 197.7,873.4 197.7,873.5 203.0,869.4 203.0,868.9 205.6,866.9 205.6,867.0 208.3,865.0 208.3,865.2 212.0,862.4 212.0,862.4 215.8,859.6 215.8,859.1 221.4,855.0 221.4,855.4 225.8,852.2 225.8,851.8 230.1,848.6 230.1,848.9 233.6,846.4 233.6,846.3 236.8,844.0 236.8,843.9 241.2,840.6 241.2,840.7 244.2,838.6 244.2,838.2 249.9,834.1 249.9,834.5 253.5,831.8 253.5,831.4 258.1,828.1 258.1,828.3 260.6,826.4 260.6,826.3 264.3,823.6 264.3,823.6 267.8,820.6 267.8,820.4 272.8,815.8 272.8,816.3 275.6,813.8 275.6,813.1 281.3,808.2 281.3,808.5 285.7,805.3 285.7,805.5 289.6,802.6 289.6,802.6 295.5,798.4 295.5,797.9 299.4,795.1 299.4,794.9 302.8,792.4 302.8,792.3 305.6,790.2 305.6,790.5 311.1,786.1 311.1,786.6 316.4,782.3 316.4,781.8 321.7,777.5 321.7,777.2 327.5,772.6 327.5,773.2 330.0,771.1 330.0,773.3 329.0,774.1 329.0,776.8 324.4,780.5 324.4,781.9 320.2,785.3 320.2,780.6 316.5,783.6 316.5,780.7 311.4,784.8 311.4,785.8 308.5,788.2 308.5,790.4 302.5,795.2 302.5,797.1 298.9,800.1 298.9,800.6 294.7,804.0 294.7,801.6 291.1,804.6 291.1,806.2 285.2,810.9 285.2,813.0 280.7,816.6 280.7,816.8 276.6,820.1 276.6,820.5 270.9,825.0 270.9,828.6 266.8,831.8 266.8,828.6 263.4,831.4 263.4,829.2 259.7,832.1 259.7,831.9 255.1,835.4 255.1,833.0 252.2,835.2 252.2,834.8 246.2,839.2 246.2,842.6 243.3,844.7 243.3,842.8 239.1,845.9 239.1,847.1 233.4,851.3 233.4,854.6 228.7,858.1 228.7,857.2 224.6,860.4 224.6,859.9 219.5,863.8 219.5,863.6 214.8,867.2 214.8,872.8 209.3,877.0 209.3,867.6 205.7,870.4 205.7,872.3 200.0,876.6 200.0,876.3 197.5,878.3 197.5,884.9 192.6,888.7 192.6,886.4 188.1,889.8 188.1,883.0 184.7,885.6 184.7,886.1 181.0,888.9 181.0,893.1 178.5,895.1 178.5,892.7 172.8,897.2 172.8,896.3 169.7,898.9 169.7,902.8 163.9,907.7 163.9,906.2 159.7,909.8 159.7,910.8 155.0,914.8 155.0,912.9 150.2,916.9 150.2,916.7 147.7,918.6 147.7,917.1 143.9,919.9 143.9,920.3 139.8,923.2 139.8,931.2 137.2,933.1 137.2,926.1 133.5,928.8 133.5,926.1 129.2,929.3 129.2,927.1 125.2,929.9 125.2,934.8 121.3,936.4 121.3,933.5 118.0,934.8" fill="#b52525"/>
<polygon points="111.5,933.9 116.2,927.7 116.2,929.3 121.5,922.2 121.5,923.0 126.6,916.2 126.6,912.4 129.2,909.0 129.2,910.9 135.0,904.5 135.0,901.9 140.6,895.8 140.6,895.0 144.8,890.6 144.8,891.7 149.2,887.0 149.2,885.9 151.7,883.2 151.7,885.9 155.2,882.2 155.2,880.1 160.4,874.6 160.4,869.6 165.6,864.7 165.6,862.0 170.3,857.7 170.3,861.2 172.8,858.9 172.8,858.0 176.0,855.1 176.0,862.2 182.0,856.7 182.0,858.4 185.5,855.3 185.5,854.9 189.9,851.7 189.9,850.5 193.1,848.1 193.1,851.1 198.0,847.5 198.0,844.7 203.6,840.6 203.6,832.5 207.4,829.7 207.4,834.0 210.4,831.8 210.4,829.8 214.0,827.4 214.0,829.1 216.5,827.4 216.5,829.5 220.2,827.0 220.2,822.5 225.5,818.8 225.5,821.0 229.1,818.6 229.1,819.3 234.1,815.9 234.1,814.6 240.0,810.1 240.0,813.4 245.1,809.4 245.1,811.0 247.7,809.0 247.7,808.8 251.5,805.9 251.5,803.3 254.0,801.3 254.0,799.3 257.2,796.9 257.2,802.4 260.3,800.0 260.3,801.2 266.1,796.8 266.1,794.7 269.8,791.9 269.8,792.8 274.1,789.6 274.1,789.9 277.0,787.8 277.0,788.5 282.3,784.6 282.3,785.4 284.9,783.4 284.9,778.0 287.8,775.9 287.8,780.2 292.4,776.7 292.4,777.5 296.1,774.8 296.1,772.3 300.5,768.9 300.5,766.9 304.1,764.0 304.1,757.4 306.9,755.2 306.9,763.9 311.8,759.9 311.8,757.2 314.9,754.8 314.9,755.6 320.8,750.8 320.8,749.9 324.7,746.7 324.7,749.0 329.3,745.3 329.3,744.7 333.4,740.9 333.4,738.7 336.1,736.1 336.1,734.6 338.7,732.1 338.7,731.5 344.1,726.3 344.1,732.1 349.2,727.3 349.2,728.0 353.9,724.7 353.9,719.6 356.8,717.7 356.8,722.8 359.8,720.8 359.8,719.6 363.3,717.4 363.3,718.6 369.3,714.8 369.3,713.5 375.3,709.7 375.3,710.3 379.5,707.2 379.5,705.4 383.6,702.3 383.6,694.9 387.5,692.0 387.5,700.8 391.4,697.9 391.4,692.9 397.2,688.1 397.2,691.7 401.5,687.8 401.5,683.7 404.3,681.1 404.3,686.4 409.5,681.6 409.5,682.5 413.3,679.2 413.3,679.2 418.5,676.5 418.5,674.6 423.3,672.6 423.3,674.6 427.1,673.2 427.1,672.1 430.6,670.7 430.6,671.1 435.8,663.1 435.8,664.6 439.3,659.3 439.3,655.1 444.1,652.0 444.1,654.6 446.6,653.0 446.6,653.2 450.0,651.1 450.0,651.9 454.1,647.4 454.1,647.8 458.9,645.2 458.9,644.7 462.6,646.0 462.6,646.5 467.0,651.6 467.0,661.9 464.4,663.8 464.4,664.4 458.6,668.6 458.6,667.7 455.8,669.7 455.8,669.9 450.7,673.6 450.7,673.6 446.6,676.6 446.6,675.7 441.6,679.3 441.6,680.0 436.0,683.3 436.0,682.3 433.4,683.8 433.4,683.7 429.0,686.2 429.0,686.5 424.9,688.8 424.9,689.0 419.5,692.1 419.5,692.1 415.3,695.5 415.3,696.4 411.2,699.9 411.2,699.9 405.8,704.4 405.8,704.5 400.9,708.6 400.9,709.3 397.2,712.4 397.2,711.4 392.3,715.5 392.3,715.1 386.6,719.8 386.6,720.9 381.3,725.3 381.3,724.4 378.5,726.8 378.5,727.2 375.2,730.0 375.2,730.8 371.6,733.9 371.6,733.4 368.4,736.1 368.4,735.9 364.7,739.0 364.7,739.7 359.5,744.0 359.5,744.1 354.1,748.7 354.1,748.2 351.4,750.4 351.4,750.0 346.2,754.0 346.2,753.8 343.1,756.1 343.1,755.4 339.0,758.5 339.0,759.8 333.6,763.8 333.6,764.2 329.4,767.3 329.4,767.4 325.9,769.9 325.9,769.5 322.7,771.9 322.7,771.8 317.7,775.5 317.7,774.1 314.8,776.3 314.8,776.0 309.2,780.2 309.2,780.2 305.9,782.7 305.9,783.4 300.3,787.5 300.3,787.6 296.1,791.0 296.1,791.8 290.8,796.0 290.8,794.9 286.9,798.1 286.9,799.1 283.5,801.7 283.5,800.5 277.6,805.2 277.6,805.4 272.9,809.1 272.9,809.1 268.1,813.0 268.1,814.0 263.5,817.6 263.5,816.6 258.5,820.6 258.5,820.2 253.0,824.6 253.0,824.5 249.8,827.0 249.8,827.7 245.3,831.3 245.3,832.7 239.7,837.1 239.7,836.2 235.5,839.5 235.5,838.5 232.6,840.9 232.6,841.5 229.1,844.3 229.1,845.0 226.1,847.3 226.1,847.9 220.4,852.5 220.4,852.5 214.5,857.2 214.5,857.0 210.2,860.4 210.2,860.7 205.5,864.5 205.5,864.2 201.3,867.6 201.3,867.4 197.4,870.5 197.4,870.9 191.5,875.6 191.5,875.6 185.9,880.1 185.9,879.3 180.5,883.6 180.5,882.9 175.8,886.7 175.8,887.8 170.1,892.4 170.1,891.4 165.7,894.8 165.7,895.6 159.9,900.3 159.9,899.7 153.9,904.4 153.9,904.1 148.2,908.6 148.2,909.4 144.1,912.7 144.1,911.7 140.1,914.9 140.1,914.9 136.3,917.9 136.3,918.8 133.3,921.2 133.3,921.1 129.6,924.0 129.6,923.5 125.9,926.4 125.9,927.5 122.3,930.3 122.3,930.1 117.1,934.3 117.1,933.3 111.5,937.7" fill="#7aa83a"/>
<polygon points="127.3,913.7 127.6,910.2 128.6,909.3 130.4,910.1 131.7,910.5 131.7,913.7" fill="#b52525"/>
<polygon points="131.7,908.3 132.0,903.6 132.9,901.9 134.5,900.4 135.8,904.1 135.8,908.3" fill="#b52525"/>
<polygon points="135.8,903.9 136.1,901.0 136.9,900.4 138.5,900.1 139.6,901.2 139.6,903.9" fill="#b52525"/>
<polygon points="135.8,920.8 135.8,925.5 139.6,925.0 139.6,920.8" fill="#b52525"/>
<polygon points="139.6,899.8 139.9,896.1 140.4,894.9 141.5,894.8 142.3,896.4 142.3,899.8" fill="#b52525"/>
<polygon points="145.9,913.1 145.9,921.1 149.9,919.9 149.9,913.1" fill="#b52525"/>
<polygon points="154.9,883.5 155.2,880.0 155.8,879.1 156.9,879.9 157.8,880.3 157.8,883.5" fill="#b52525"/>
<polygon points="161.0,900.9 161.0,905.8 165.9,905.2 165.9,900.9" fill="#b52525"/>
<polygon points="170.6,868.1 170.9,864.1 171.6,862.7 172.9,861.8 173.8,864.4 173.8,868.1" fill="#b52525"/>
<polygon points="170.6,893.0 170.6,897.3 173.8,896.9 173.8,893.0" fill="#b52525"/>
<polygon points="176.8,862.4 177.1,859.3 177.5,858.6 178.5,859.5 179.2,859.5 179.2,862.4" fill="#b52525"/>
<polygon points="181.7,884.2 181.7,890.7 184.3,889.8 184.3,884.2" fill="#b52525"/>
<polygon points="184.3,882.1 184.3,887.2 186.6,886.6 186.6,882.1" fill="#b52525"/>
<polygon points="186.6,880.3 186.6,887.9 191.5,886.7 191.5,880.3" fill="#b52525"/>
<polygon points="194.2,848.2 194.5,843.5 195.3,841.7 196.9,842.2 198.1,844.0 198.1,848.2" fill="#b52525"/>
<polygon points="194.2,874.4 194.2,881.5 198.1,880.5 198.1,874.4" fill="#b52525"/>
<polygon points="198.1,845.3 198.4,842.3 199.0,841.6 200.2,842.4 201.1,842.5 201.1,845.3" fill="#b52525"/>
<polygon points="207.2,864.4 207.2,869.0 210.9,868.5 210.9,864.4" fill="#b52525"/>
<polygon points="210.9,861.6 210.9,866.3 215.6,865.8 215.6,861.6" fill="#b52525"/>
<polygon points="215.6,858.1 215.6,865.9 219.8,864.7 219.8,858.1" fill="#b52525"/>
<polygon points="224.5,826.8 224.8,822.2 225.2,820.4 226.1,820.8 226.8,822.6 226.8,826.8" fill="#b52525"/>
<polygon points="229.6,823.3 229.9,819.1 230.4,817.6 231.6,818.5 232.4,819.5 232.4,823.3" fill="#b52525"/>
<polygon points="229.6,847.9 229.6,854.2 232.4,853.3 232.4,847.9" fill="#b52525"/>
<polygon points="232.4,845.8 232.4,853.5 237.0,852.4 237.0,845.8" fill="#b52525"/>
<polygon points="237.0,818.0 237.3,814.7 237.8,813.7 238.8,813.6 239.6,814.9 239.6,818.0" fill="#b52525"/>
<polygon points="237.0,842.5 237.0,847.2 239.6,846.7 239.6,842.5" fill="#b52525"/>
<polygon points="239.6,840.6 239.6,846.0 242.7,845.3 242.7,840.6" fill="#b52525"/>
<polygon points="247.4,834.9 247.4,839.1 251.5,838.6 251.5,834.9" fill="#b52525"/>
<polygon points="253.5,805.3 253.8,801.2 255.0,799.9 256.9,799.7 258.4,801.6 258.4,805.3" fill="#b52525"/>
<polygon points="258.4,826.8 258.4,833.0 261.4,832.1 261.4,826.8" fill="#b52525"/>
<polygon points="296.2,773.1 296.5,768.9 297.5,767.4 299.3,768.3 300.7,769.3 300.7,773.1" fill="#b52525"/>
<polygon points="300.7,769.7 301.0,765.5 301.7,764.1 303.1,763.9 304.1,765.9 304.1,769.7" fill="#b52525"/>
<polygon points="304.1,766.9 304.4,764.0 305.6,763.4 307.5,763.6 308.9,764.2 308.9,766.9" fill="#b52525"/>
<polygon points="308.9,763.1 309.2,758.6 309.7,756.9 310.7,756.2 311.5,759.0 311.5,763.1" fill="#b52525"/>
<polygon points="323.5,766.1 323.5,759.6 327.3,760.5 327.3,766.1" fill="#b52525"/>
<polygon points="331.8,744.4 332.1,741.2 333.2,740.4 335.2,740.3 336.6,741.4 336.6,744.4" fill="#b52525"/>
<polygon points="331.8,760.1 331.8,755.0 336.6,755.6 336.6,760.1" fill="#b52525"/>
<polygon points="342.8,733.9 343.1,730.9 343.8,730.3 345.2,729.1 346.2,731.1 346.2,733.9" fill="#b52525"/>
<polygon points="342.8,751.9 342.8,744.3 346.2,745.4 346.2,751.9" fill="#b52525"/>
<polygon points="349.9,727.1 350.2,723.4 350.5,722.3 351.3,723.2 351.9,723.7 351.9,727.1" fill="#b52525"/>
<polygon points="351.9,725.8 352.2,722.8 352.8,722.1 353.8,721.5 354.7,722.9 354.7,725.8" fill="#b52525"/>
<polygon points="358.5,740.8 358.5,734.4 363.4,735.3 363.4,740.8" fill="#b52525"/>
<polygon points="363.4,718.4 363.7,714.6 364.2,713.4 365.2,712.6 366.0,714.9 366.0,718.4" fill="#b52525"/>
<polygon points="363.4,737.6 363.4,732.2 366.0,732.9 366.0,737.6" fill="#b52525"/>
<polygon points="372.8,731.3 372.8,722.7 377.2,724.0 377.2,731.3" fill="#b52525"/>
<polygon points="377.2,709.2 377.5,705.5 378.5,704.3 380.1,703.8 381.4,705.8 381.4,709.2" fill="#b52525"/>
<polygon points="388.9,700.4 389.2,696.2 390.1,694.7 391.7,693.7 392.9,696.6 392.9,700.4" fill="#b52525"/>
<polygon points="392.9,697.4 393.2,692.9 394.1,691.2 395.8,689.7 397.0,693.3 397.0,697.4" fill="#b52525"/>
<polygon points="397.0,717.4 397.0,708.9 400.6,710.2 400.6,717.4" fill="#b52525"/>
<polygon points="400.6,714.9 400.6,708.7 405.2,709.6 405.2,714.9" fill="#b52525"/>
<polygon points="408.8,709.3 408.8,701.3 410.9,702.5 410.9,709.3" fill="#b52525"/>
<polygon points="413.4,679.1 413.7,675.2 414.2,674.0 415.1,673.2 415.9,675.5 415.9,679.1" fill="#b52525"/>
<polygon points="419.9,675.7 420.2,672.4 421.4,671.5 423.3,671.2 424.8,672.6 424.8,675.7" fill="#b52525"/>
<polygon points="419.9,701.7 419.9,694.1 424.8,695.2 424.8,701.7" fill="#b52525"/>
<polygon points="432.4,691.1 432.4,682.8 436.9,684.1 436.9,691.1" fill="#b52525"/>
<polygon points="444.4,655.1 444.7,650.4 445.6,648.7 447.1,648.4 448.2,650.9 448.2,655.1" fill="#b52525"/>
<polygon points="452.6,648.6 452.9,644.8 453.9,643.5 455.5,643.5 456.7,645.1 456.7,648.6" fill="#b52525"/>
<polygon points="463.9,665.1 463.9,660.2 468.6,660.8 468.6,665.1" fill="#b52525"/>
<polyline points="111.5,935.0 494.6,648.4" fill="none" stroke="#1f4a8a" stroke-width="3" stroke-linejoin="round" stroke-linecap="round" />
<polygon points="111.5,931.9 114.2,928.2 114.2,928.6 117.3,924.3 117.3,921.9 121.2,916.5 121.2,918.9 123.2,916.1 123.2,914.5 126.0,910.7 126.0,911.0 131.0,904.4 131.0,904.6 135.5,899.9 135.5,894.4 139.4,890.3 139.4,897.0 143.3,893.0 143.3,893.8 146.9,890.1 146.9,887.3 150.9,883.1 150.9,884.1 155.2,879.7 155.2,872.1 158.1,869.1 158.1,875.5 162.7,871.2 162.7,873.7 166.9,870.2 166.9,871.8 171.0,868.3 171.0,868.5 174.2,865.8 174.2,866.6 177.5,863.8 177.5,860.2 182.1,856.3 182.1,854.9 184.6,852.9 184.6,848.1 189.5,844.7 189.5,849.3 193.3,846.6 193.3,846.7 196.9,844.3 196.9,845.4 199.9,843.3 199.9,843.4 203.7,840.8 203.7,838.3 207.7,835.5 207.7,842.3 212.3,839.3 212.3,835.8 216.3,833.2 216.3,835.2 220.9,832.3 220.9,831.4 225.6,828.4 225.6,826.2 229.7,823.6 229.7,824.1 234.2,821.2 234.2,814.7 237.1,812.9 237.1,820.5 241.6,817.6 241.6,815.6 243.9,814.1 243.9,814.4 247.1,812.3 247.1,809.9 250.0,808.0 250.0,809.4 254.6,806.4 254.6,805.0 258.5,802.5 258.5,803.1 262.6,800.4 262.6,803.9 267.3,801.0 267.3,798.7 270.8,796.6 270.8,797.5 273.7,795.7 273.7,793.7 277.5,791.4 277.5,786.9 280.1,785.4 280.1,787.0 283.9,784.7 283.9,790.3 286.1,789.0 286.1,791.1 289.0,789.3 289.0,787.6 293.7,784.8 293.7,784.6 297.1,782.4 297.1,782.6 301.0,780.0 301.0,780.2 304.7,777.7 304.7,777.3 309.5,774.1 309.5,772.4 312.8,770.2 312.8,771.1 315.5,769.3 315.5,764.9 320.5,761.6 320.5,763.8 324.1,761.4 324.1,762.8 327.3,760.5 327.3,761.4 329.4,759.9 329.4,757.8 333.3,754.9 333.3,755.6 337.2,752.7 337.2,747.8 341.2,744.8 341.2,751.4 345.3,748.3 345.3,746.1 347.4,744.5 347.4,743.8 351.4,740.9 351.4,744.0 354.2,742.2 354.2,741.1 358.0,738.6 358.0,738.0 361.1,735.9 361.1,736.9 364.2,734.9 364.2,734.4 367.1,732.4 367.1,730.5 371.4,727.6 371.4,729.9 375.1,727.5 375.1,726.3 378.0,724.7 378.0,724.1 382.4,721.7 382.4,718.3 385.0,716.9 385.0,719.6 389.1,717.3 389.1,717.8 392.1,716.1 392.1,716.9 396.6,714.2 396.6,713.3 401.1,710.1 401.1,712.0 404.1,709.9 404.1,709.9 408.8,706.8 408.8,701.4 411.5,699.6 411.5,702.8 415.1,700.4 415.1,703.2 419.5,700.2 419.5,697.0 422.0,694.9 422.0,698.1 426.4,694.3 426.4,691.1 430.9,687.3 430.9,685.2 433.3,683.1 433.3,686.5 437.6,682.7 437.6,683.2 440.7,680.7 440.7,680.9 443.9,678.7 443.9,677.6 448.7,674.4 448.7,677.6 450.7,676.2 450.7,678.2 455.4,674.9 455.4,675.8 458.7,672.3 458.7,669.3 463.4,664.3 463.4,665.6 467.7,661.1 467.7,660.3 471.7,657.6 471.7,656.3 474.5,659.7 474.5,657.7 476.0,657.4 476.0,665.9 474.6,669.3 474.6,669.5 472.5,674.6 472.5,677.3 468.4,684.8 468.4,685.3 464.9,688.0 464.9,687.5 461.4,690.1 461.4,694.7 458.5,696.9 458.5,695.4 456.2,697.1 456.2,691.3 453.9,693.1 453.9,693.5 450.9,695.8 450.9,694.2 447.6,696.7 447.6,696.9 443.5,699.9 443.5,700.7 440.5,702.8 440.5,702.9 438.2,704.6 438.2,702.9 435.1,705.2 435.1,709.0 432.1,711.1 432.1,708.7 427.2,712.2 427.2,710.8 422.9,714.0 422.9,712.2 420.0,714.3 420.0,715.4 415.7,718.5 415.7,720.4 410.9,723.8 410.9,723.6 406.9,726.5 406.9,727.7 404.0,739.1 404.0,738.4 399.2,729.5 399.2,732.7 395.0,733.5 395.0,736.7 391.0,738.9 391.0,734.2 388.5,735.6 388.5,735.2 384.7,737.3 384.7,738.2 380.3,740.6 380.3,739.9 377.0,741.8 377.0,740.4 374.3,742.0 374.3,744.1 370.0,746.5 370.0,748.8 365.4,751.4 365.4,746.4 360.6,749.1 360.6,753.6 358.3,754.9 358.3,752.1 354.0,754.5 354.0,754.9 351.9,756.0 351.9,752.9 347.3,756.6 347.3,757.5 344.0,760.2 344.0,758.1 341.0,760.5 341.0,760.4 337.5,763.2 337.5,765.1 332.7,768.9 332.7,772.4 329.1,775.3 329.1,774.1 324.4,777.9 324.4,777.3 322.0,779.3 322.0,777.4 317.6,780.9 317.6,780.7 313.8,783.7 313.8,784.0 310.2,786.9 310.2,786.9 307.3,789.3 307.3,790.5 303.1,793.7 303.1,791.7 298.5,795.0 298.5,795.3 295.2,797.6 295.2,798.1 291.3,800.9 291.3,802.8 289.2,804.3 289.2,801.6 285.3,804.4 285.3,806.4 282.3,808.7 282.3,810.1 277.5,814.0 277.5,813.6 273.6,817.1 273.6,814.6 269.2,818.7 269.2,823.7 266.6,826.0 266.6,829.8 263.7,832.3 263.7,827.9 260.1,830.6 260.1,828.9 256.0,831.9 256.0,829.9 252.0,832.9 252.0,833.9 249.0,836.1 249.0,836.0 245.9,838.3 245.9,838.7 242.1,841.5 242.1,840.8 239.5,842.7 239.5,843.8 235.8,846.5 235.8,846.3 231.1,849.7 231.1,850.0 229.0,851.6 229.0,851.3 226.8,852.9 226.8,854.2 223.5,856.6 223.5,856.3 220.3,858.6 220.3,857.3 216.7,860.0 216.7,859.7 212.5,862.7 212.5,864.8 208.8,867.6 208.8,867.2 203.9,871.1 203.9,874.5 201.6,876.3 201.6,870.1 197.1,873.5 197.1,874.0 192.4,877.7 192.4,876.1 189.6,878.3 189.6,880.4 187.2,882.3 187.2,883.3 184.3,885.5 184.3,891.2 180.7,894.0 180.7,890.0 176.1,893.6 176.1,892.7 173.4,894.8 173.4,892.3 170.7,894.6 170.7,896.2 166.8,899.4 166.8,900.7 163.1,903.8 163.1,907.6 160.3,909.8 160.3,905.9 156.6,909.0 156.6,908.1 153.3,910.7 153.3,909.5 149.1,912.9 149.1,911.1 146.6,913.1 146.6,912.6 144.2,914.4 144.2,912.6 141.5,914.6 141.5,914.9 137.1,918.3 137.1,919.6 134.8,921.3 134.8,921.9 130.2,925.4 130.2,927.4 127.0,929.3 127.0,926.2 123.2,928.5 123.2,929.7 120.6,931.2 120.6,933.7 116.4,936.2 116.4,935.0 111.5,937.9" fill="#2461a8"/>
<polyline points="111.5,935.0 485.0,634.4" fill="none" stroke="#8cb43f" stroke-width="3" stroke-linejoin="round" stroke-linecap="round" />
<polyline points="111.5,935.8 485.5,637.4" fill="none" stroke="#a02a1a" stroke-width="1.4" stroke-linejoin="round" stroke-linecap="round" />
</g>
<rect x="181.4" y="612.6" width="101.5" height="21.8" fill="none" stroke="#404040" stroke-width="1.3"/>
<text x="232.0" y="628.2" font-size="13.8" fill="#6a9a22" stroke="#6a9a22" stroke-width="0.25" font-weight="bold" text-anchor="middle" textLength="94.3" lengthAdjust="spacingAndGlyphs" >E = 76.351 GPa</text>
<rect x="181.4" y="643.0" width="101.5" height="23.1" fill="none" stroke="#a04040" stroke-width="1.3"/>
<text x="232.0" y="659.5" font-size="13.8" fill="#7a1515" stroke="#7a1515" stroke-width="0.25" font-weight="bold" text-anchor="middle" textLength="94.3" lengthAdjust="spacingAndGlyphs" >E = 75.791 GPa</text>
<rect x="181.4" y="672.4" width="101.5" height="21.8" fill="none" stroke="#404040" stroke-width="1.3"/>
<text x="232.0" y="688.5" font-size="13.8" fill="#1c3f80" stroke="#1c3f80" stroke-width="0.25" font-weight="bold" text-anchor="middle" textLength="94.3" lengthAdjust="spacingAndGlyphs" >E = 70.763 GPa</text>
<rect x="529.2" y="588.6" width="45.2" height="90.8" fill="#fff" stroke="#404040" stroke-width="1.3"/>
<line x1="532.5" y1="603.6" x2="552.2" y2="603.6" stroke="#b03a3a" stroke-width="1.8"/>
<circle cx="541.6" cy="603.6" r="2.7" fill="#7a0c0c"/>
<text x="553.7" y="610.1" font-size="16.3" fill="#000" stroke="#000" stroke-width="0.45" textLength="17.2" lengthAdjust="spacingAndGlyphs" >T1</text>
<line x1="532.5" y1="634.7" x2="552.2" y2="634.7" stroke="#6f9e2a" stroke-width="1.8"/>
<rect x="539.1" y="632.2" width="5" height="5" fill="#5f8f22"/>
<text x="553.7" y="639.7" font-size="16.3" fill="#000" stroke="#000" stroke-width="0.45" textLength="17.2" lengthAdjust="spacingAndGlyphs" >T2</text>
<line x1="532.5" y1="664.3" x2="552.2" y2="664.3" stroke="#1f3c70" stroke-width="1.8"/>
<polygon points="541.6,660.8 544.6,666.3 538.6,666.3" fill="#1f4e9a"/>
<text x="553.7" y="670.6" font-size="16.3" fill="#000" stroke="#000" stroke-width="0.45" textLength="17.2" lengthAdjust="spacingAndGlyphs" >T3</text>
<line x1="1.8" y1="1056.5" x2="682.8" y2="1056.5" stroke="#484848" stroke-width="1.5"/>
<line x1="682.0" y1="1055.8" x2="682.0" y2="1551.8" stroke="#a0a0a0" stroke-width="1.5"/>
<line x1="1.8" y1="1551.0" x2="682.8" y2="1551.0" stroke="#a0a0a0" stroke-width="1.5"/>
<line x1="2.5" y1="1055.8" x2="2.5" y2="1551.8" stroke="#555555" stroke-width="1.5"/>
<line x1="86.2" y1="1365.0" x2="644.1" y2="1365.0" stroke="#d9d9d9" stroke-width="1"/>
<line x1="86.2" y1="1267.8" x2="644.1" y2="1267.8" stroke="#d9d9d9" stroke-width="1"/>
<line x1="86.2" y1="1170.5" x2="644.1" y2="1170.5" stroke="#d9d9d9" stroke-width="1"/>
<line x1="86.2" y1="1073.3" x2="644.1" y2="1073.3" stroke="#d9d9d9" stroke-width="1"/>
<line x1="165.9" y1="1073.3" x2="165.9" y2="1462.3" stroke="#d9d9d9" stroke-width="1"/>
<line x1="245.6" y1="1073.3" x2="245.6" y2="1462.3" stroke="#d9d9d9" stroke-width="1"/>
<line x1="325.3" y1="1073.3" x2="325.3" y2="1462.3" stroke="#d9d9d9" stroke-width="1"/>
<line x1="405.0" y1="1073.3" x2="405.0" y2="1462.3" stroke="#d9d9d9" stroke-width="1"/>
<line x1="484.7" y1="1073.3" x2="484.7" y2="1462.3" stroke="#d9d9d9" stroke-width="1"/>
<line x1="564.4" y1="1073.3" x2="564.4" y2="1462.3" stroke="#d9d9d9" stroke-width="1"/>
<line x1="644.1" y1="1073.3" x2="644.1" y2="1462.3" stroke="#d9d9d9" stroke-width="1"/>
<line x1="85.5" y1="1073.3" x2="644.8" y2="1073.3" stroke="#a8a8a8" stroke-width="1.4"/>
<line x1="644.1" y1="1072.6" x2="644.1" y2="1463.0" stroke="#9a9a9a" stroke-width="1.4"/>
<line x1="85.5" y1="1462.3" x2="644.8" y2="1462.3" stroke="#999999" stroke-width="1.4"/>
<line x1="86.2" y1="1072.6" x2="86.2" y2="1463.0" stroke="#858585" stroke-width="1.4"/>
<text x="86.2" y="1495.0" font-size="17.5" fill="#000" stroke="#000" stroke-width="0.45" text-anchor="middle" textLength="9" lengthAdjust="spacingAndGlyphs" >0</text>
<text x="165.9" y="1495.0" font-size="17.5" fill="#000" stroke="#000" stroke-width="0.45" text-anchor="middle" textLength="39" lengthAdjust="spacingAndGlyphs" >0.002</text>
<text x="245.6" y="1495.0" font-size="17.5" fill="#000" stroke="#000" stroke-width="0.45" text-anchor="middle" textLength="39" lengthAdjust="spacingAndGlyphs" >0.004</text>
<text x="325.3" y="1495.0" font-size="17.5" fill="#000" stroke="#000" stroke-width="0.45" text-anchor="middle" textLength="39" lengthAdjust="spacingAndGlyphs" >0.006</text>
<text x="405.0" y="1495.0" font-size="17.5" fill="#000" stroke="#000" stroke-width="0.45" text-anchor="middle" textLength="39" lengthAdjust="spacingAndGlyphs" >0.008</text>
<text x="484.7" y="1495.0" font-size="17.5" fill="#000" stroke="#000" stroke-width="0.45" text-anchor="middle" textLength="30" lengthAdjust="spacingAndGlyphs" >0.01</text>
<text x="564.4" y="1495.0" font-size="17.5" fill="#000" stroke="#000" stroke-width="0.45" text-anchor="middle" textLength="39" lengthAdjust="spacingAndGlyphs" >0.012</text>
<text x="644.1" y="1495.0" font-size="17.5" fill="#000" stroke="#000" stroke-width="0.45" text-anchor="middle" textLength="39" lengthAdjust="spacingAndGlyphs" >0.014</text>
<text x="71.0" y="1469.3" font-size="17.5" fill="#000" stroke="#000" stroke-width="0.45" text-anchor="end" textLength="9" lengthAdjust="spacingAndGlyphs" >0</text>
<text x="71.0" y="1372.0" font-size="17.5" fill="#000" stroke="#000" stroke-width="0.45" text-anchor="end" textLength="18" lengthAdjust="spacingAndGlyphs" >20</text>
<text x="71.0" y="1274.8" font-size="17.5" fill="#000" stroke="#000" stroke-width="0.45" text-anchor="end" textLength="18" lengthAdjust="spacingAndGlyphs" >40</text>
<text x="71.0" y="1177.5" font-size="17.5" fill="#000" stroke="#000" stroke-width="0.45" text-anchor="end" textLength="18" lengthAdjust="spacingAndGlyphs" >60</text>
<text x="71.0" y="1080.3" font-size="17.5" fill="#000" stroke="#000" stroke-width="0.45" text-anchor="end" textLength="18" lengthAdjust="spacingAndGlyphs" >80</text>
<text x="365.2" y="1526.1" font-size="20.6" fill="#000" stroke="#000" stroke-width="0.25" font-weight="bold" text-anchor="middle" textLength="84" lengthAdjust="spacingAndGlyphs" >Strain (%)</text>
<text x="44.2" y="1268.0" font-size="20.2" fill="#000" stroke="#000" stroke-width="0.25" font-weight="bold" text-anchor="middle" textLength="127" lengthAdjust="spacingAndGlyphs" transform="rotate(-90 44.2 1268.0)" >Stress (MPa)</text>
<text x="342.5" y="1580.5" font-size="25" fill="#000" stroke="#000" stroke-width="0.25" font-weight="bold" text-anchor="middle" textLength="27.5" lengthAdjust="spacingAndGlyphs" >(c)</text>
<g clip-path="url(#clipC)">
<polygon points="86.2,1459.1 87.7,1458.2 87.7,1457.9 90.6,1456.3 90.6,1457.2 92.6,1456.1 92.6,1456.4 95.5,1454.7 95.5,1454.4 98.1,1453.0 98.1,1452.2 101.6,1450.2 101.6,1450.4 105.0,1448.4 105.0,1448.4 107.1,1447.2 107.1,1446.9 109.1,1445.8 109.1,1447.0 111.7,1445.5 111.7,1444.8 113.9,1443.5 113.9,1442.8 117.3,1440.8 117.3,1441.6 120.6,1439.7 120.6,1440.2 123.7,1438.5 123.7,1437.8 126.5,1436.2 126.5,1436.1 128.6,1434.8 128.6,1435.7 131.4,1434.0 131.4,1434.8 134.9,1432.8 134.9,1431.7 137.0,1430.4 137.0,1430.8 139.6,1429.3 139.6,1429.9 141.5,1428.8 141.5,1427.6 144.4,1426.0 144.4,1426.4 147.7,1424.5 147.7,1424.3 149.6,1423.2 149.6,1423.8 152.0,1422.4 152.0,1421.4 153.7,1420.4 153.7,1420.1 155.4,1419.1 155.4,1420.1 158.4,1418.5 158.4,1418.8 160.9,1417.4 160.9,1417.3 163.1,1416.0 163.1,1415.0 164.7,1414.1 164.7,1414.7 167.6,1413.0 167.6,1412.5 170.7,1410.8 170.7,1410.7 174.1,1408.7 174.1,1408.5 176.4,1407.2 176.4,1406.9 178.0,1405.9 178.0,1406.6 179.6,1405.7 179.6,1406.4 181.5,1405.2 181.5,1404.9 183.3,1403.8 183.3,1404.4 185.9,1402.8 185.9,1402.9 188.4,1401.3 188.4,1400.9 191.4,1399.1 191.4,1399.5 193.1,1398.4 193.1,1398.4 196.5,1396.4 196.5,1396.7 198.3,1395.6 198.3,1394.4 200.7,1393.0 200.7,1393.0 202.8,1391.7 202.8,1391.3 205.4,1389.8 205.4,1390.6 208.3,1388.9 208.3,1389.4 211.1,1387.8 211.1,1387.9 213.0,1386.7 213.0,1386.8 215.3,1385.4 215.3,1384.4 217.2,1383.2 217.2,1383.0 220.1,1381.2 220.1,1380.9 221.7,1379.9 221.7,1380.2 224.2,1378.7 224.2,1378.3 226.2,1377.1 226.2,1377.0 228.7,1375.6 228.7,1375.0 230.2,1374.1 230.2,1374.4 233.2,1372.6 233.2,1372.9 235.9,1371.3 235.9,1371.8 237.8,1370.7 237.8,1370.4 240.4,1368.9 240.4,1368.5 243.1,1366.9 243.1,1368.1 245.6,1366.5 245.6,1367.0 248.2,1365.4 248.2,1365.3 250.5,1364.0 250.5,1363.4 252.4,1362.3 252.4,1362.5 254.4,1361.3 254.4,1361.4 257.8,1359.4 257.8,1359.6 261.3,1357.6 261.3,1357.1 263.3,1355.9 263.3,1354.9 265.0,1353.9 265.0,1354.0 266.6,1353.0 266.6,1352.6 269.0,1351.2 269.0,1351.5 272.1,1349.7 272.1,1350.3 274.6,1348.8 274.6,1349.2 277.7,1347.3 277.7,1346.3 279.6,1345.2 279.6,1345.6 281.2,1344.7 281.2,1344.5 283.3,1343.2 283.3,1343.7 286.7,1341.7 286.7,1342.0 288.3,1341.0 288.3,1341.4 290.6,1340.0 290.6,1340.0 293.9,1338.0 293.9,1337.7 296.3,1336.3 296.3,1335.3 298.7,1333.9 298.7,1334.8 301.9,1332.8 301.9,1332.1 304.2,1330.7 304.2,1330.7 307.6,1328.7 307.6,1328.7 309.6,1327.5 309.6,1327.0 311.8,1325.7 311.8,1326.8 313.9,1325.6 313.9,1324.7 316.9,1322.9 316.9,1323.6 318.9,1322.4 318.9,1321.6 320.5,1320.6 320.5,1320.8 323.1,1319.3 323.1,1319.4 326.0,1317.7 326.0,1317.5 328.7,1315.8 328.7,1316.5 331.3,1315.0 331.3,1315.0 334.2,1313.3 334.2,1313.2 337.5,1311.3 337.5,1310.7 340.5,1308.9 340.5,1309.2 343.6,1307.4 343.6,1308.3 346.8,1306.4 346.8,1306.2 348.5,1305.3 348.5,1304.9 351.9,1302.9 351.9,1303.5 355.0,1301.7 355.0,1300.7 357.4,1299.3 357.4,1300.1 359.2,1299.0 359.2,1299.5 361.5,1298.2 361.5,1297.6 363.7,1296.4 363.7,1295.5 365.5,1294.4 365.5,1295.0 367.4,1293.9 367.4,1293.6 370.0,1292.0 370.0,1291.4 373.1,1289.6 373.1,1289.6 375.9,1288.0 375.9,1289.0 377.6,1288.0 377.6,1287.4 379.8,1286.1 379.8,1286.0 382.1,1284.7 382.1,1285.6 384.2,1284.4 384.2,1284.2 386.5,1282.9 386.5,1282.1 388.1,1281.2 388.1,1282.2 391.5,1280.2 391.5,1279.7 394.8,1277.8 394.8,1278.1 398.1,1276.2 398.1,1276.0 400.3,1274.7 400.3,1274.2 403.6,1272.3 403.6,1272.7 405.1,1271.9 405.1,1271.3 407.7,1269.8 407.7,1269.5 410.5,1267.9 410.5,1268.4 413.3,1266.8 413.3,1267.0 415.2,1265.9 415.2,1266.4 417.1,1265.2 417.1,1266.0 420.5,1264.1 420.5,1263.4 423.5,1261.9 423.5,1262.7 426.1,1261.3 426.1,1260.5 428.5,1259.2 428.5,1259.1 431.9,1257.3 431.9,1257.5 434.6,1256.1 434.6,1255.9 437.7,1254.3 437.7,1253.5 440.7,1251.9 440.7,1253.2 443.6,1251.7 443.6,1252.3 445.6,1251.2 445.6,1250.1 448.1,1248.8 448.1,1249.2 450.3,1248.0 450.3,1248.1 452.1,1247.2 452.1,1246.2 454.1,1245.1 454.1,1245.6 457.0,1244.1 457.0,1244.0 460.3,1242.3 460.3,1242.3 462.9,1240.9 462.9,1241.3 465.4,1240.1 465.4,1239.4 468.7,1237.5 468.7,1237.9 472.1,1235.3 472.1,1234.7 475.4,1232.2 475.4,1232.9 477.0,1231.6 477.0,1231.5 479.2,1229.9 479.2,1230.5 482.1,1228.3 482.1,1227.2 485.3,1224.8 485.3,1224.4 487.1,1223.3 487.1,1223.1 488.8,1222.2 488.8,1223.5 491.0,1222.4 491.0,1222.9 492.8,1222.0 492.8,1220.9 496.3,1219.2 496.3,1220.4 498.6,1219.2 498.6,1218.4 501.9,1216.8 501.9,1216.4 504.8,1215.0 504.8,1215.8 507.9,1214.3 507.9,1215.0 511.1,1213.5 511.1,1212.4 513.1,1211.5 513.1,1211.6 516.4,1209.9 516.4,1210.2 519.7,1208.8 519.7,1207.8 522.3,1206.9 522.3,1207.7 524.5,1206.9 524.5,1206.6 527.2,1205.7 527.2,1204.9 529.5,1204.1 529.5,1205.1 532.8,1203.9 532.8,1204.3 535.3,1203.4 535.3,1203.3 537.5,1202.5 537.5,1201.4 540.9,1200.2 540.9,1200.3 543.7,1199.3 543.7,1199.9 546.9,1198.7 546.9,1197.9 548.0,1198.6 548.0,1204.2 546.9,1203.5 546.9,1202.9 543.7,1204.1 543.7,1204.5 540.9,1205.5 540.9,1206.0 537.5,1207.2 537.5,1206.1 535.3,1206.9 535.3,1207.0 532.8,1207.9 532.8,1208.1 529.5,1209.3 529.5,1209.6 527.2,1210.4 527.2,1210.5 524.5,1211.4 524.5,1211.7 522.3,1212.5 522.3,1211.9 519.7,1212.8 519.7,1213.1 516.4,1214.5 516.4,1214.7 513.1,1216.3 513.1,1215.8 511.1,1216.8 511.1,1217.8 507.9,1219.4 507.9,1219.3 504.8,1220.9 504.8,1220.5 501.9,1222.0 501.9,1221.9 498.6,1223.5 498.6,1223.4 496.3,1224.6 496.3,1224.3 492.8,1226.0 492.8,1226.7 491.0,1227.6 491.0,1226.7 488.8,1227.8 488.8,1227.9 487.1,1228.7 487.1,1229.4 485.3,1230.5 485.3,1230.3 482.1,1232.7 482.1,1232.4 479.2,1234.6 479.2,1234.5 477.0,1236.1 477.0,1236.4 475.4,1237.6 475.4,1237.4 472.1,1239.8 472.1,1240.2 468.7,1242.8 468.7,1243.1 465.4,1245.0 465.4,1245.7 462.9,1247.0 462.9,1246.9 460.3,1248.2 460.3,1247.3 457.0,1249.1 457.0,1249.0 454.1,1250.6 454.1,1251.8 452.1,1252.9 452.1,1252.4 450.3,1253.3 450.3,1253.6 448.1,1254.8 448.1,1254.0 445.6,1255.3 445.6,1255.0 443.6,1256.1 443.6,1256.8 440.7,1258.3 440.7,1257.3 437.7,1258.9 437.7,1259.4 434.6,1261.0 434.6,1260.9 431.9,1262.3 431.9,1261.6 428.5,1263.4 428.5,1264.2 426.1,1265.4 426.1,1264.4 423.5,1265.8 423.5,1266.6 420.5,1268.1 420.5,1268.3 417.1,1270.2 417.1,1270.4 415.2,1271.5 415.2,1271.2 413.3,1272.2 413.3,1272.6 410.5,1274.2 410.5,1275.0 407.7,1276.7 407.7,1276.3 405.1,1277.8 405.1,1277.8 403.6,1278.7 403.6,1277.8 400.3,1279.7 400.3,1280.5 398.1,1281.7 398.1,1281.6 394.8,1283.4 394.8,1282.4 391.5,1284.3 391.5,1284.6 388.1,1286.6 388.1,1285.6 386.5,1286.5 386.5,1286.5 384.2,1287.8 384.2,1287.8 382.1,1289.0 382.1,1289.3 379.8,1290.6 379.8,1291.2 377.6,1292.4 377.6,1293.5 375.9,1294.5 375.9,1293.9 373.1,1295.5 373.1,1296.7 370.0,1298.5 370.0,1298.3 367.4,1299.8 367.4,1299.6 365.5,1300.7 365.5,1300.7 363.7,1301.8 363.7,1301.4 361.5,1302.6 361.5,1302.5 359.2,1303.8 359.2,1303.0 357.4,1304.0 357.4,1304.0 355.0,1305.4 355.0,1305.0 351.9,1306.8 351.9,1307.3 348.5,1309.3 348.5,1308.8 346.8,1309.8 346.8,1310.2 343.6,1312.1 343.6,1312.6 340.5,1314.4 340.5,1314.4 337.5,1316.3 337.5,1316.3 334.2,1318.3 334.2,1318.3 331.3,1320.1 331.3,1319.1 328.7,1320.7 328.7,1321.5 326.0,1323.1 326.0,1322.1 323.1,1323.8 323.1,1324.6 320.5,1326.2 320.5,1326.7 318.9,1327.7 318.9,1327.1 316.9,1328.3 316.9,1328.5 313.9,1330.3 313.9,1329.4 311.8,1330.6 311.8,1330.9 309.6,1332.2 309.6,1332.7 307.6,1334.0 307.6,1333.4 304.2,1335.4 304.2,1335.5 301.9,1336.9 301.9,1337.0 298.7,1339.0 298.7,1340.0 296.3,1341.4 296.3,1341.8 293.9,1343.2 293.9,1343.2 290.6,1345.2 290.6,1344.7 288.3,1346.1 288.3,1345.8 286.7,1346.8 286.7,1347.3 283.3,1349.3 283.3,1348.9 281.2,1350.2 281.2,1350.8 279.6,1351.8 279.6,1351.4 277.7,1352.5 277.7,1351.8 274.6,1353.7 274.6,1354.2 272.1,1355.7 272.1,1354.8 269.0,1356.6 269.0,1356.2 266.6,1357.7 266.6,1358.5 265.0,1359.5 265.0,1359.3 263.3,1360.4 263.3,1360.9 261.3,1362.1 261.3,1360.7 257.8,1362.7 257.8,1363.2 254.4,1365.3 254.4,1365.3 252.4,1366.5 252.4,1367.6 250.5,1368.8 250.5,1368.2 248.2,1369.5 248.2,1369.3 245.6,1370.8 245.6,1371.3 243.1,1372.8 243.1,1372.3 240.4,1373.9 240.4,1374.0 237.8,1375.6 237.8,1376.8 235.9,1378.0 235.9,1377.8 233.2,1379.4 233.2,1379.2 230.2,1381.0 230.2,1380.1 228.7,1381.0 228.7,1381.1 226.2,1382.5 226.2,1382.4 224.2,1383.6 224.2,1385.0 221.7,1386.4 221.7,1385.8 220.1,1386.8 220.1,1386.7 217.2,1388.4 217.2,1387.7 215.3,1388.8 215.3,1388.8 213.0,1390.2 213.0,1390.1 211.1,1391.3 211.1,1391.2 208.3,1392.8 208.3,1393.0 205.4,1394.8 205.4,1395.9 202.8,1397.5 202.8,1397.0 200.7,1398.3 200.7,1397.7 198.3,1399.1 198.3,1399.0 196.5,1400.1 196.5,1400.9 193.1,1402.9 193.1,1402.8 191.4,1403.9 191.4,1403.1 188.4,1404.9 188.4,1405.5 185.9,1407.0 185.9,1407.0 183.3,1408.5 183.3,1408.7 181.5,1409.9 181.5,1409.2 179.6,1410.4 179.6,1410.5 178.0,1411.5 178.0,1412.2 176.4,1413.1 176.4,1412.0 174.1,1413.3 174.1,1413.6 170.7,1415.6 170.7,1416.9 167.6,1418.6 167.6,1418.4 164.7,1420.1 164.7,1419.0 163.1,1419.9 163.1,1420.6 160.9,1421.8 160.9,1421.4 158.4,1422.9 158.4,1423.3 155.4,1425.0 155.4,1425.2 153.7,1426.2 153.7,1427.0 152.0,1428.0 152.0,1427.5 149.6,1428.8 149.6,1429.2 147.7,1430.3 147.7,1430.1 144.4,1432.0 144.4,1431.1 141.5,1432.7 141.5,1432.9 139.6,1434.0 139.6,1433.6 137.0,1435.1 137.0,1436.1 134.9,1437.3 134.9,1437.4 131.4,1439.4 131.4,1439.1 128.6,1440.8 128.6,1439.5 126.5,1440.8 126.5,1440.4 123.7,1442.0 123.7,1442.6 120.6,1444.4 120.6,1444.9 117.3,1446.8 117.3,1447.7 113.9,1449.7 113.9,1449.8 111.7,1451.1 111.7,1450.8 109.1,1452.3 109.1,1451.9 107.1,1453.0 107.1,1452.9 105.0,1454.2 105.0,1452.8 101.6,1454.7 101.6,1454.7 98.1,1456.7 98.1,1457.2 95.5,1458.7 95.5,1458.2 92.6,1460.0 92.6,1460.1 90.6,1461.2 90.6,1461.5 87.7,1463.1 87.7,1463.7 86.2,1464.6" fill="#3b1f6b" />
<polygon points="86.2,1459.6 87.9,1459.7 87.9,1460.0 91.2,1460.3 91.2,1460.5 92.9,1460.6 92.9,1461.5 95.4,1460.5 95.4,1459.2 97.6,1458.1 97.6,1457.5 99.4,1456.6 99.4,1457.8 102.6,1456.2 102.6,1455.5 104.5,1454.5 104.5,1454.2 107.9,1452.4 107.9,1452.2 109.5,1451.3 109.5,1451.3 111.7,1450.1 111.7,1450.1 115.0,1448.2 115.0,1449.0 118.0,1447.3 118.0,1447.7 121.1,1446.0 121.1,1445.6 123.2,1444.4 123.2,1444.5 126.7,1441.7 126.7,1442.4 129.1,1440.4 129.1,1439.4 132.1,1437.0 132.1,1436.4 134.9,1434.0 134.9,1434.0 137.1,1432.1 137.1,1433.5 138.7,1432.2 138.7,1432.1 142.1,1429.4 142.1,1429.5 145.3,1427.1 145.3,1426.5 147.8,1424.6 147.8,1424.2 150.8,1422.0 150.8,1422.6 153.3,1420.7 153.3,1420.1 156.1,1418.0 156.1,1417.5 157.6,1416.4 157.6,1417.9 160.3,1415.9 160.3,1416.6 162.4,1415.3 162.4,1414.0 164.8,1412.5 164.8,1412.4 166.6,1411.3 166.6,1412.3 169.6,1410.5 169.6,1410.3 172.6,1408.4 172.6,1407.9 175.9,1405.9 175.9,1406.7 177.5,1405.7 177.5,1406.0 179.0,1405.0 179.0,1405.0 181.9,1403.2 181.9,1402.3 183.6,1401.2 183.6,1400.7 187.0,1398.5 187.0,1399.4 189.4,1397.9 189.4,1397.2 192.6,1395.2 192.6,1394.6 194.4,1393.5 194.4,1394.8 196.9,1393.2 196.9,1392.2 199.9,1390.3 199.9,1390.6 203.4,1388.3 203.4,1389.3 205.2,1388.1 205.2,1387.4 207.2,1386.1 207.2,1385.5 209.7,1383.8 209.7,1383.9 212.5,1382.0 212.5,1382.8 215.0,1381.1 215.0,1381.4 216.7,1380.3 216.7,1380.0 218.9,1378.5 218.9,1377.7 221.5,1376.1 221.5,1375.8 223.4,1374.5 223.4,1374.4 225.7,1372.9 225.7,1374.2 227.8,1372.8 227.8,1372.0 229.8,1370.7 229.8,1370.9 232.3,1369.3 232.3,1369.9 234.9,1368.2 234.9,1368.7 236.9,1367.4 236.9,1367.3 240.4,1365.0 240.4,1363.9 242.8,1362.4 242.8,1361.7 245.1,1360.2 245.1,1360.8 248.2,1358.8 248.2,1359.7 249.8,1358.7 249.8,1358.3 252.4,1356.6 252.4,1357.2 253.9,1356.2 253.9,1356.4 256.2,1354.9 256.2,1355.1 259.2,1353.2 259.2,1352.3 260.9,1351.2 260.9,1351.5 263.9,1349.5 263.9,1349.5 266.6,1347.8 266.6,1347.5 268.2,1346.6 268.2,1346.6 269.8,1345.5 269.8,1345.6 271.9,1344.3 271.9,1344.7 274.7,1342.9 274.7,1342.6 276.4,1341.6 276.4,1341.6 278.7,1340.1 278.7,1340.5 281.5,1338.8 281.5,1338.6 284.7,1336.5 284.7,1335.3 287.7,1333.4 287.7,1333.7 291.2,1331.5 291.2,1331.4 293.0,1330.2 293.0,1329.7 296.5,1327.5 296.5,1327.9 298.8,1326.4 298.8,1327.1 300.6,1325.9 300.6,1325.0 302.6,1323.7 302.6,1323.7 305.8,1321.7 305.8,1322.2 308.4,1320.6 308.4,1319.8 310.7,1318.4 310.7,1319.2 312.7,1318.0 312.7,1317.8 314.6,1316.6 314.6,1317.1 316.6,1315.8 316.6,1314.9 319.2,1313.2 319.2,1313.4 322.1,1311.6 322.1,1311.4 323.6,1310.4 323.6,1310.5 325.3,1309.5 325.3,1310.0 327.0,1309.0 327.0,1308.8 329.9,1307.0 329.9,1307.8 333.3,1305.7 333.3,1306.1 336.3,1304.2 336.3,1303.0 338.5,1301.6 338.5,1301.2 341.4,1299.4 341.4,1298.8 343.0,1297.8 343.0,1297.5 346.2,1295.5 346.2,1297.0 348.5,1295.5 348.5,1294.6 350.1,1293.6 350.1,1294.3 351.6,1293.3 351.6,1292.5 353.5,1291.0 353.5,1290.8 355.2,1289.5 355.2,1290.2 357.1,1288.7 357.1,1287.9 359.1,1286.4 359.1,1287.7 362.3,1285.2 362.3,1284.7 364.6,1282.8 364.6,1282.8 367.0,1280.9 367.0,1281.3 368.9,1279.8 368.9,1279.9 371.7,1277.7 371.7,1277.6 373.5,1276.1 373.5,1276.6 376.9,1273.8 376.9,1274.0 378.7,1272.6 378.7,1271.5 382.1,1269.2 382.1,1268.7 385.3,1266.8 385.3,1267.7 388.0,1266.0 388.0,1266.6 390.5,1265.2 390.5,1264.0 392.7,1262.7 392.7,1262.9 395.3,1261.4 395.3,1261.6 398.0,1260.0 398.0,1260.6 400.6,1259.1 400.6,1259.4 402.1,1258.5 402.1,1257.7 404.5,1256.3 404.5,1256.3 406.8,1254.9 406.8,1254.9 408.9,1253.7 408.9,1253.0 411.4,1251.7 411.4,1252.5 414.7,1250.8 414.7,1250.6 417.9,1249.0 417.9,1248.6 420.6,1247.2 420.6,1247.5 423.6,1246.0 423.6,1246.5 425.6,1245.5 425.6,1245.8 428.9,1244.1 428.9,1244.5 431.8,1243.0 431.8,1241.9 435.1,1240.2 435.1,1240.8 436.9,1239.8 436.9,1239.1 439.5,1237.9 439.5,1237.2 442.4,1236.0 442.4,1237.2 445.3,1236.1 445.3,1235.6 447.9,1234.6 447.9,1234.9 450.3,1233.9 450.3,1233.9 452.4,1233.1 452.4,1233.8 453.9,1233.1 453.9,1232.8 456.5,1231.6 456.5,1231.1 458.8,1230.0 458.8,1229.2 461.0,1228.2 461.0,1228.4 463.8,1227.1 463.8,1228.0 466.2,1226.9 466.2,1227.4 469.7,1225.7 469.7,1225.4 472.8,1223.7 472.8,1224.3 476.0,1222.6 476.0,1222.3 479.0,1220.6 479.0,1220.5 482.3,1218.7 482.3,1218.4 484.7,1217.1 484.7,1216.6 487.6,1215.0 487.6,1215.5 489.8,1214.3 489.8,1213.9 492.0,1212.8 492.0,1212.0 495.2,1210.3 495.2,1210.1 497.5,1208.8 497.5,1208.6 499.6,1207.5 499.6,1207.9 501.9,1206.6 501.9,1207.7 505.3,1205.9 505.3,1205.8 507.4,1204.7 507.4,1205.2 510.0,1203.8 510.0,1203.8 513.5,1201.9 513.5,1201.8 517.0,1199.9 517.0,1200.3 519.9,1198.7 519.9,1198.2 522.1,1197.0 522.1,1196.6 525.2,1194.9 525.2,1195.0 528.1,1193.5 528.1,1193.2 530.2,1192.0 530.2,1191.0 532.5,1189.7 532.5,1189.6 534.2,1188.6 534.2,1188.6 537.1,1186.9 537.1,1187.3 540.5,1185.4 540.5,1186.2 543.0,1184.8 543.0,1184.7 545.1,1183.5 545.1,1184.0 548.5,1182.0 548.5,1182.3 551.2,1180.7 551.2,1180.4 553.0,1179.4 553.0,1183.0 551.2,1184.0 551.2,1183.3 548.5,1184.9 548.5,1185.1 545.1,1187.0 545.1,1187.3 543.0,1188.5 543.0,1188.5 540.5,1189.9 540.5,1189.2 537.1,1191.1 537.1,1191.6 534.2,1193.2 534.2,1194.2 532.5,1195.2 532.5,1194.5 530.2,1195.8 530.2,1195.2 528.1,1196.4 528.1,1197.3 525.2,1198.8 525.2,1198.4 522.1,1200.1 522.1,1200.2 519.9,1201.4 519.9,1202.2 517.0,1203.8 517.0,1204.1 513.5,1206.0 513.5,1205.9 510.0,1207.8 510.0,1207.5 507.4,1209.0 507.4,1208.4 505.3,1209.6 505.3,1209.5 501.9,1211.4 501.9,1211.2 499.6,1212.5 499.6,1211.7 497.5,1212.9 497.5,1213.3 495.2,1214.6 495.2,1214.9 492.0,1216.7 492.0,1217.3 489.8,1218.5 489.8,1218.0 487.6,1219.2 487.6,1218.4 484.7,1220.0 484.7,1220.4 482.3,1221.7 482.3,1222.0 479.0,1223.8 479.0,1224.6 476.0,1226.3 476.0,1225.7 472.8,1227.4 472.8,1227.3 469.7,1229.0 469.7,1229.9 466.2,1231.6 466.2,1230.7 463.8,1231.8 463.8,1232.6 461.0,1233.9 461.0,1232.8 458.8,1233.9 458.8,1234.1 456.5,1235.2 456.5,1236.4 453.9,1237.5 453.9,1237.2 452.4,1237.9 452.4,1237.7 450.3,1238.6 450.3,1238.0 447.9,1239.0 447.9,1239.6 445.3,1240.6 445.3,1241.4 442.4,1242.6 442.4,1242.1 439.5,1243.3 439.5,1242.5 436.9,1243.7 436.9,1244.0 435.1,1244.9 435.1,1244.5 431.8,1246.2 431.8,1246.9 428.9,1248.4 428.9,1247.4 425.6,1249.2 425.6,1249.4 423.6,1250.4 423.6,1249.7 420.6,1251.3 420.6,1251.5 417.9,1252.9 417.9,1253.0 414.7,1254.6 414.7,1255.2 411.4,1256.9 411.4,1256.7 408.9,1258.0 408.9,1257.6 406.8,1258.8 406.8,1258.6 404.5,1259.9 404.5,1260.4 402.1,1261.8 402.1,1262.1 400.6,1263.0 400.6,1263.7 398.0,1265.3 398.0,1264.9 395.3,1266.4 395.3,1266.5 392.7,1268.0 392.7,1267.9 390.5,1269.2 390.5,1268.9 388.0,1270.3 388.0,1269.2 385.3,1270.8 385.3,1271.2 382.1,1273.1 382.1,1273.6 378.7,1275.8 378.7,1275.1 376.9,1276.5 376.9,1277.1 373.5,1279.8 373.5,1280.3 371.7,1281.7 371.7,1281.3 368.9,1283.5 368.9,1284.7 367.0,1286.2 367.0,1286.1 364.6,1288.0 364.6,1287.1 362.3,1289.0 362.3,1289.8 359.1,1292.3 359.1,1292.1 357.1,1293.6 357.1,1292.6 355.2,1294.1 355.2,1293.8 353.5,1295.2 353.5,1295.2 351.6,1296.7 351.6,1296.6 350.1,1297.6 350.1,1298.0 348.5,1299.0 348.5,1298.8 346.2,1300.3 346.2,1300.4 343.0,1302.4 343.0,1302.8 341.4,1303.8 341.4,1304.3 338.5,1306.1 338.5,1306.6 336.3,1308.0 336.3,1308.5 333.3,1310.4 333.3,1310.6 329.9,1312.7 329.9,1312.4 327.0,1314.2 327.0,1314.0 325.3,1315.0 325.3,1314.0 323.6,1315.1 323.6,1314.8 322.1,1315.8 322.1,1315.5 319.2,1317.4 319.2,1317.7 316.6,1319.3 316.6,1318.8 314.6,1320.0 314.6,1320.0 312.7,1321.2 312.7,1321.1 310.7,1322.4 310.7,1322.6 308.4,1324.1 308.4,1324.5 305.8,1326.2 305.8,1326.3 302.6,1328.3 302.6,1329.4 300.6,1330.7 300.6,1330.7 298.8,1331.8 298.8,1331.7 296.5,1333.3 296.5,1332.5 293.0,1334.7 293.0,1334.2 291.2,1335.4 291.2,1334.7 287.7,1337.0 287.7,1337.1 284.7,1339.0 284.7,1339.3 281.5,1341.4 281.5,1341.0 278.7,1342.8 278.7,1343.2 276.4,1344.7 276.4,1345.3 274.7,1346.4 274.7,1347.0 271.9,1348.8 271.9,1348.7 269.8,1350.0 269.8,1350.0 268.2,1351.1 268.2,1350.3 266.6,1351.3 266.6,1351.9 263.9,1353.6 263.9,1353.6 260.9,1355.6 260.9,1355.5 259.2,1356.5 259.2,1356.4 256.2,1358.3 256.2,1358.8 253.9,1360.3 253.9,1359.6 252.4,1360.6 252.4,1360.6 249.8,1362.2 249.8,1362.2 248.2,1363.3 248.2,1363.9 245.1,1365.9 245.1,1366.2 242.8,1367.8 242.8,1366.9 240.4,1368.5 240.4,1367.4 236.9,1369.7 236.9,1370.3 234.9,1371.7 234.9,1371.9 232.3,1373.6 232.3,1373.4 229.8,1375.1 229.8,1376.0 227.8,1377.3 227.8,1377.5 225.7,1378.9 225.7,1378.5 223.4,1380.0 223.4,1378.9 221.5,1380.2 221.5,1380.8 218.9,1382.5 218.9,1383.2 216.7,1384.6 216.7,1384.6 215.0,1385.7 215.0,1384.6 212.5,1386.3 212.5,1386.7 209.7,1388.5 209.7,1390.0 207.2,1391.7 207.2,1391.1 205.2,1392.4 205.2,1392.4 203.4,1393.6 203.4,1392.5 199.9,1394.8 199.9,1395.9 196.9,1397.8 196.9,1398.1 194.4,1399.7 194.4,1399.3 192.6,1400.4 192.6,1399.5 189.4,1401.5 189.4,1401.0 187.0,1402.5 187.0,1403.6 183.6,1405.7 183.6,1406.2 181.9,1407.3 181.9,1406.4 179.0,1408.2 179.0,1408.5 177.5,1409.5 177.5,1408.9 175.9,1409.9 175.9,1410.6 172.6,1412.7 172.6,1411.9 169.6,1413.8 169.6,1413.4 166.6,1415.2 166.6,1415.4 164.8,1416.6 164.8,1417.5 162.4,1419.0 162.4,1419.9 160.3,1421.3 160.3,1421.0 157.6,1422.9 157.6,1422.8 156.1,1424.0 156.1,1423.1 153.3,1425.2 153.3,1426.1 150.8,1428.0 150.8,1427.7 147.8,1430.0 147.8,1429.3 145.3,1431.2 145.3,1431.6 142.1,1434.0 142.1,1434.3 138.7,1437.0 138.7,1436.0 137.1,1437.3 137.1,1436.3 134.9,1438.3 134.9,1438.6 132.1,1441.0 132.1,1440.9 129.1,1443.3 129.1,1443.8 126.7,1445.9 126.7,1445.5 123.2,1448.3 123.2,1448.9 121.1,1450.1 121.1,1450.1 118.0,1451.8 118.0,1452.4 115.0,1454.1 115.0,1454.0 111.7,1455.9 111.7,1454.9 109.5,1456.1 109.5,1455.9 107.9,1456.7 107.9,1457.3 104.5,1459.0 104.5,1459.6 102.6,1460.5 102.6,1461.9 99.4,1463.4 99.4,1463.1 97.6,1464.0 97.6,1464.0 95.4,1465.1 95.4,1465.2 92.9,1466.2 92.9,1465.9 91.2,1465.7 91.2,1465.2 87.9,1464.9 87.9,1464.3 86.2,1464.1" fill="#2aa0b8" />
<polyline points="86.2,1462.3 93.3,1463.0 107.4,1456.0 123.7,1446.8 140.0,1433.0 160.0,1418.0 200.0,1393.0 250.0,1360.0 300.0,1328.0 351.0,1296.0 380.0,1273.0 409.0,1256.0 438.0,1241.0 453.0,1235.0 470.0,1227.0 490.0,1216.0 510.0,1205.0 530.0,1194.0 547.0,1184.5 553.0,1181.0" fill="none" stroke="#ffffff" stroke-width="1" stroke-linejoin="round" stroke-linecap="round" stroke-dasharray="1.2 2.2" opacity="0.55"/>
<polygon points="86.3,1458.2 88.9,1456.2 88.9,1456.4 91.0,1454.9 91.0,1454.0 94.3,1451.5 94.3,1451.7 97.0,1449.3 97.0,1449.3 99.6,1446.8 99.6,1446.4 102.4,1443.7 102.4,1443.0 104.9,1440.5 104.9,1440.9 107.8,1438.1 107.8,1438.6 111.2,1435.9 111.2,1435.0 112.9,1433.7 112.9,1433.6 115.0,1431.9 115.0,1431.7 118.0,1429.3 118.0,1429.5 120.0,1427.8 120.0,1428.0 122.5,1425.7 122.5,1425.4 124.4,1423.7 124.4,1424.9 127.6,1422.0 127.6,1421.3 129.4,1419.7 129.4,1419.2 131.5,1417.6 131.5,1417.6 133.4,1416.6 133.4,1417.3 135.9,1416.1 135.9,1417.1 138.4,1415.8 138.4,1415.6 140.1,1414.8 140.1,1413.9 143.1,1412.5 143.1,1413.0 144.7,1412.7 144.7,1413.8 146.8,1413.3 146.8,1413.0 148.6,1412.6 148.6,1411.5 150.2,1411.2 150.2,1411.5 153.1,1410.9 153.1,1410.6 155.7,1409.7 155.7,1410.0 159.1,1408.3 159.1,1409.2 161.4,1408.1 161.4,1407.1 163.1,1406.3 163.1,1406.0 165.8,1404.7 165.8,1406.1 168.9,1403.9 168.9,1404.3 171.2,1402.6 171.2,1402.6 174.5,1400.3 174.5,1400.6 177.0,1398.8 177.0,1397.5 179.9,1395.0 179.9,1395.1 182.0,1393.3 182.0,1392.5 183.9,1390.8 183.9,1392.0 185.5,1390.6 185.5,1391.3 188.2,1389.0 188.2,1389.2 189.7,1388.0 189.7,1387.8 193.0,1385.6 193.0,1383.8 194.6,1382.7 194.6,1382.3 197.7,1381.1 197.7,1382.1 199.9,1381.9 199.9,1382.8 203.1,1382.5 203.1,1380.8 206.3,1380.5 206.3,1381.0 209.5,1380.2 209.5,1379.8 211.3,1379.1 211.3,1379.2 213.8,1378.3 213.8,1377.8 215.4,1377.1 215.4,1377.3 217.1,1376.7 217.1,1377.1 220.2,1375.2 220.2,1374.7 223.0,1373.1 223.0,1373.1 224.7,1372.1 224.7,1372.0 226.7,1370.8 226.7,1371.1 228.2,1370.2 228.2,1370.9 230.3,1369.8 230.3,1368.9 231.8,1368.0 231.8,1367.5 234.0,1366.3 234.0,1367.9 236.8,1366.4 236.8,1365.2 239.9,1363.5 239.9,1363.9 243.0,1362.3 243.0,1363.3 245.3,1361.8 245.3,1360.8 248.1,1358.8 248.1,1358.9 251.3,1356.5 251.3,1357.2 253.4,1355.7 253.4,1355.0 256.1,1353.0 256.1,1353.9 259.5,1351.5 259.5,1350.3 261.8,1348.7 261.8,1348.4 263.7,1347.1 263.7,1347.3 265.5,1346.2 265.5,1346.4 267.3,1345.5 267.3,1345.0 269.0,1344.2 269.0,1345.7 272.3,1344.2 272.3,1344.8 274.0,1344.1 274.0,1343.6 277.3,1342.1 277.3,1342.5 280.0,1341.3 280.0,1340.8 282.5,1339.7 282.5,1339.6 285.1,1338.4 285.1,1339.2 287.5,1339.3 287.5,1338.4 289.5,1338.5 289.5,1339.2 291.6,1339.3 291.6,1339.6 294.8,1339.8 294.8,1340.0 297.2,1340.2 297.2,1340.4 299.9,1340.5 299.9,1339.0 302.1,1337.9 302.1,1338.1 304.3,1337.0 304.3,1337.3 307.4,1335.7 307.4,1335.2 310.6,1333.6 310.6,1333.2 312.8,1331.8 312.8,1333.0 315.9,1330.3 315.9,1329.0 318.8,1326.4 318.8,1327.6 320.9,1325.7 320.9,1325.1 323.4,1322.8 323.4,1321.9 325.4,1320.1 325.4,1321.1 328.0,1318.8 328.0,1319.9 330.1,1318.1 330.1,1317.2 332.4,1315.0 332.4,1315.4 335.8,1312.4 335.8,1312.8 337.7,1311.1 337.7,1310.2 339.8,1308.3 339.8,1307.9 342.5,1306.1 342.5,1306.4 344.1,1305.3 344.1,1306.2 346.2,1304.8 346.2,1304.2 349.1,1302.4 349.1,1301.8 351.8,1300.1 351.8,1299.6 354.4,1297.9 354.4,1297.3 357.4,1295.3 357.4,1295.7 359.3,1294.5 359.3,1294.6 362.7,1292.4 362.7,1293.8 364.9,1292.4 364.9,1291.2 367.7,1289.4 367.7,1290.6 370.7,1288.7 370.7,1288.2 373.3,1286.5 373.3,1286.7 376.1,1284.9 376.1,1285.7 379.1,1283.8 379.1,1283.8 382.4,1281.6 382.4,1280.8 385.5,1278.8 385.5,1279.5 388.7,1277.4 388.7,1276.9 391.6,1275.1 391.6,1275.7 394.4,1273.9 394.4,1273.9 396.3,1272.6 396.3,1271.3 398.2,1270.0 398.2,1270.9 400.8,1269.2 400.8,1267.9 403.9,1265.9 403.9,1266.8 406.5,1265.1 406.5,1264.7 409.4,1262.8 409.4,1261.8 411.9,1260.2 411.9,1261.1 414.1,1259.7 414.1,1260.9 416.1,1259.6 416.1,1259.7 418.4,1258.2 418.4,1257.8 421.6,1255.8 421.6,1255.3 423.2,1254.2 423.2,1253.8 425.3,1252.5 425.3,1251.7 427.2,1250.5 427.2,1249.9 429.0,1248.7 429.0,1248.4 431.6,1246.7 431.6,1247.6 433.5,1246.4 433.5,1246.6 436.9,1244.4 436.9,1243.8 439.4,1242.2 439.4,1243.4 442.5,1241.4 442.5,1241.2 446.0,1238.9 446.0,1240.0 449.2,1237.9 449.2,1237.2 452.4,1235.1 452.4,1234.2 455.1,1232.4 455.1,1232.2 457.4,1230.7 457.4,1230.9 460.2,1229.0 460.2,1230.5 463.3,1228.5 463.3,1227.3 466.2,1225.4 466.2,1226.1 468.0,1224.9 468.0,1225.3 471.1,1223.2 471.1,1223.2 474.4,1221.1 474.4,1221.7 476.2,1220.5 476.2,1221.0 479.0,1219.2 479.0,1217.8 481.3,1216.3 481.3,1217.1 484.6,1214.8 484.6,1214.3 486.2,1213.3 486.2,1213.8 489.4,1211.6 489.4,1211.8 491.3,1210.5 491.3,1211.0 493.5,1209.5 493.5,1209.6 495.9,1207.9 495.9,1206.6 499.2,1204.6 499.2,1203.7 502.7,1201.6 502.7,1201.2 506.1,1199.2 506.1,1199.2 509.1,1197.4 509.1,1197.2 512.2,1195.4 512.2,1196.0 515.5,1194.1 515.5,1194.7 518.5,1192.9 518.5,1192.9 520.2,1191.9 520.2,1191.3 523.2,1189.6 523.2,1189.9 525.6,1188.5 525.6,1187.7 528.9,1185.7 528.9,1187.2 530.7,1186.2 530.7,1187.0 534.0,1185.1 534.0,1183.7 535.8,1182.6 535.8,1183.5 538.3,1182.1 538.3,1182.4 540.6,1181.1 540.6,1180.5 543.1,1179.1 543.1,1179.0 544.7,1178.0 544.7,1178.9 547.6,1177.3 547.6,1177.3 549.0,1176.5 549.0,1181.1 547.6,1181.9 547.6,1182.1 544.7,1183.7 544.7,1184.2 543.1,1185.1 543.1,1185.1 540.6,1186.6 540.6,1186.1 538.3,1187.5 538.3,1188.0 535.8,1189.4 535.8,1190.1 534.0,1191.2 534.0,1191.2 530.7,1193.0 530.7,1192.3 528.9,1193.3 528.9,1193.7 525.6,1195.6 525.6,1195.9 523.2,1197.3 523.2,1196.2 520.2,1197.9 520.2,1198.8 518.5,1199.7 518.5,1199.3 515.5,1201.1 515.5,1200.5 512.2,1202.4 512.2,1204.3 509.1,1206.1 509.1,1205.7 506.1,1207.4 506.1,1206.6 502.7,1208.6 502.7,1208.0 499.2,1210.0 499.2,1210.1 495.9,1212.1 495.9,1211.9 493.5,1213.6 493.5,1212.5 491.3,1213.9 491.3,1214.7 489.4,1216.0 489.4,1215.8 486.2,1218.0 486.2,1219.2 484.6,1220.2 484.6,1218.8 481.3,1221.1 481.3,1222.3 479.0,1223.9 479.0,1224.5 476.2,1226.3 476.2,1225.8 474.4,1227.0 474.4,1226.1 471.1,1228.2 471.1,1229.0 468.0,1231.0 468.0,1230.2 466.2,1231.4 466.2,1230.6 463.3,1232.5 463.3,1232.5 460.2,1234.5 460.2,1234.4 457.4,1236.2 457.4,1236.8 455.1,1238.2 455.1,1238.8 452.4,1240.6 452.4,1241.2 449.2,1243.3 449.2,1244.2 446.0,1246.2 446.0,1245.8 442.5,1248.0 442.5,1247.9 439.4,1250.0 439.4,1249.7 436.9,1251.3 436.9,1252.1 433.5,1254.4 433.5,1254.4 431.6,1255.6 431.6,1254.9 429.0,1256.6 429.0,1257.0 427.2,1258.2 427.2,1257.3 425.3,1258.5 425.3,1259.3 423.2,1260.6 423.2,1259.8 421.6,1260.9 421.6,1261.3 418.4,1263.4 418.4,1263.3 416.1,1264.8 416.1,1264.2 414.1,1265.5 414.1,1264.6 411.9,1266.0 411.9,1266.2 409.4,1267.9 409.4,1268.3 406.5,1270.1 406.5,1270.2 403.9,1271.8 403.9,1271.3 400.8,1273.3 400.8,1273.6 398.2,1275.3 398.2,1275.6 396.3,1276.8 396.3,1278.1 394.4,1279.3 394.4,1278.3 391.6,1280.1 391.6,1280.5 388.7,1282.4 388.7,1283.5 385.5,1285.6 385.5,1285.1 382.4,1287.1 382.4,1286.4 379.1,1288.5 379.1,1289.1 376.1,1291.1 376.1,1291.2 373.3,1293.0 373.3,1292.8 370.7,1294.5 370.7,1294.5 367.7,1296.5 367.7,1295.9 364.9,1297.7 364.9,1297.4 362.7,1298.9 362.7,1300.0 359.3,1302.2 359.3,1302.0 357.4,1303.2 357.4,1302.8 354.4,1304.8 354.4,1304.4 351.8,1306.1 351.8,1305.4 349.1,1307.2 349.1,1307.8 346.2,1309.6 346.2,1310.8 344.1,1312.2 344.1,1311.3 342.5,1312.4 342.5,1312.1 339.8,1313.8 339.8,1313.2 337.7,1315.1 337.7,1315.0 335.8,1316.6 335.8,1316.2 332.4,1319.2 332.4,1319.4 330.1,1321.5 330.1,1321.7 328.0,1323.5 328.0,1324.2 325.4,1326.5 325.4,1325.4 323.4,1327.2 323.4,1327.8 320.9,1330.1 320.9,1330.3 318.8,1332.2 318.8,1332.0 315.9,1334.6 315.9,1334.1 312.8,1336.8 312.8,1337.5 310.6,1338.9 310.6,1339.9 307.4,1341.4 307.4,1341.0 304.3,1342.6 304.3,1341.9 302.1,1343.0 302.1,1343.1 299.9,1344.2 299.9,1345.5 297.2,1345.4 297.2,1344.1 294.8,1343.9 294.8,1344.5 291.6,1344.2 291.6,1345.5 289.5,1345.3 289.5,1344.6 287.5,1344.5 287.5,1343.3 285.1,1343.1 285.1,1343.5 282.5,1344.7 282.5,1345.2 280.0,1346.4 280.0,1347.4 277.3,1348.6 277.3,1347.7 274.0,1349.2 274.0,1350.1 272.3,1350.8 272.3,1349.9 269.0,1351.4 269.0,1351.3 267.3,1352.1 267.3,1352.2 265.5,1353.1 265.5,1352.3 263.7,1353.5 263.7,1353.2 261.8,1354.5 261.8,1355.9 259.5,1357.5 259.5,1357.1 256.1,1359.5 256.1,1360.1 253.4,1362.1 253.4,1362.2 251.3,1363.7 251.3,1362.9 248.1,1365.2 248.1,1364.0 245.3,1365.9 245.3,1366.3 243.0,1367.7 243.0,1368.9 239.9,1370.5 239.9,1369.7 236.8,1371.4 236.8,1372.1 234.0,1373.6 234.0,1374.7 231.8,1375.9 231.8,1375.2 230.3,1376.0 230.3,1374.6 228.2,1375.8 228.2,1376.3 226.7,1377.2 226.7,1377.6 224.7,1378.8 224.7,1377.5 223.0,1378.5 223.0,1378.1 220.2,1379.8 220.2,1380.4 217.1,1382.3 217.1,1381.6 215.4,1382.2 215.4,1382.4 213.8,1383.0 213.8,1383.3 211.3,1384.3 211.3,1384.6 209.5,1385.2 209.5,1385.2 206.3,1386.0 206.3,1386.0 203.1,1386.3 203.1,1387.7 199.9,1388.1 199.9,1387.6 197.7,1387.8 197.7,1386.9 194.6,1388.1 194.6,1389.1 193.0,1390.2 193.0,1389.2 189.7,1391.5 189.7,1392.4 188.2,1393.6 188.2,1394.3 185.5,1396.7 185.5,1396.8 183.9,1398.3 183.9,1398.1 182.0,1399.8 182.0,1398.8 179.9,1400.6 179.9,1400.2 177.0,1402.8 177.0,1404.0 174.5,1405.8 174.5,1406.0 171.2,1408.3 171.2,1408.8 168.9,1410.4 168.9,1409.9 165.8,1412.1 165.8,1411.5 163.1,1412.9 163.1,1412.7 161.4,1413.5 161.4,1412.7 159.1,1413.8 159.1,1413.9 155.7,1415.6 155.7,1417.1 153.1,1418.0 153.1,1417.3 150.2,1417.8 150.2,1418.2 148.6,1418.6 148.6,1418.6 146.8,1418.9 146.8,1419.0 144.7,1419.4 144.7,1419.0 143.1,1419.3 143.1,1419.7 140.1,1421.0 140.1,1419.9 138.4,1420.7 138.4,1420.7 135.9,1422.0 135.9,1422.2 133.4,1423.4 133.4,1423.6 131.5,1424.6 131.5,1423.7 129.4,1425.3 129.4,1425.3 127.6,1426.8 127.6,1427.4 124.4,1430.3 124.4,1429.5 122.5,1431.2 122.5,1431.9 120.0,1434.1 120.0,1433.9 118.0,1435.6 118.0,1436.9 115.0,1439.3 115.0,1440.5 112.9,1442.2 112.9,1442.1 111.2,1443.5 111.2,1442.9 107.8,1445.5 107.8,1445.6 104.9,1448.5 104.9,1448.0 102.4,1450.5 102.4,1450.5 99.6,1453.2 99.6,1454.5 97.0,1457.1 97.0,1456.8 94.3,1459.2 94.3,1458.7 91.0,1461.1 91.0,1461.4 88.9,1462.9 88.9,1462.4 86.3,1464.4" fill="#a81c1c" />
<polygon points="86.2,1459.2 88.8,1458.9 88.8,1459.7 92.1,1457.8 92.1,1457.1 95.5,1455.2 95.5,1455.1 97.1,1454.2 97.1,1454.3 99.2,1453.2 99.2,1452.0 102.2,1450.3 102.2,1450.8 104.2,1449.7 104.2,1450.9 107.3,1449.2 107.3,1448.2 110.1,1446.5 110.1,1446.6 112.0,1445.5 112.0,1445.2 114.6,1443.6 114.6,1444.5 116.6,1443.3 116.6,1443.7 119.6,1441.9 119.6,1440.8 121.4,1439.8 121.4,1439.6 124.5,1437.7 124.5,1438.7 126.6,1437.4 126.6,1438.2 129.6,1436.4 129.6,1434.7 132.0,1433.3 132.0,1432.8 134.0,1431.6 134.0,1431.0 136.1,1429.7 136.1,1429.7 138.4,1428.2 138.4,1429.0 140.5,1427.7 140.5,1429.1 143.6,1427.2 143.6,1425.8 146.8,1423.8 146.8,1423.7 149.0,1422.4 149.0,1422.4 152.0,1420.6 152.0,1422.1 154.0,1420.8 154.0,1420.6 156.0,1419.9 156.0,1419.7 158.1,1419.1 158.1,1419.1 161.3,1418.2 161.3,1418.5 163.3,1417.9 163.3,1418.7 165.1,1418.1 165.1,1418.2 167.3,1418.0 167.3,1417.2 169.1,1417.2 169.1,1416.4 172.2,1416.4 172.2,1417.3 175.1,1417.3 175.1,1417.2 178.3,1416.9 178.3,1416.3 180.8,1415.4 180.8,1415.1 183.3,1414.2 183.3,1415.4 185.6,1414.5 185.6,1414.8 189.0,1412.2 189.0,1412.4 191.0,1410.5 191.0,1410.1 193.1,1408.0 193.1,1406.5 195.8,1405.0 195.8,1405.5 198.8,1404.3 198.8,1405.1 200.8,1404.3 200.8,1404.6 203.3,1403.6 203.3,1403.0 205.9,1402.0 205.9,1401.2 209.2,1399.9 209.2,1400.8 211.3,1400.0 211.3,1398.4 214.2,1397.3 214.2,1397.6 216.0,1396.9 216.0,1396.1 217.7,1395.1 217.7,1396.6 220.4,1393.9 220.4,1394.6 223.0,1392.0 223.0,1390.7 225.7,1386.4 225.7,1386.5 227.4,1383.0 227.4,1383.7 230.9,1378.8 230.9,1378.6 234.4,1375.1 234.4,1375.6 236.7,1373.6 236.7,1373.1 238.4,1371.9 238.4,1371.0 240.4,1369.6 240.4,1369.2 243.2,1367.2 243.2,1368.7 244.8,1367.8 244.8,1367.2 247.3,1365.8 247.3,1365.0 249.7,1363.7 249.7,1363.5 252.3,1362.1 252.3,1363.2 255.6,1361.2 255.6,1360.5 257.8,1359.2 257.8,1358.9 261.1,1356.9 261.1,1356.5 264.2,1354.6 264.2,1354.5 266.9,1353.0 266.9,1352.7 269.7,1351.0 269.7,1351.3 272.6,1349.6 272.6,1349.4 275.8,1347.5 275.8,1348.3 277.6,1347.2 277.6,1346.7 279.6,1345.5 279.6,1346.3 282.6,1344.5 282.6,1345.9 284.4,1344.9 284.4,1345.2 287.0,1343.6 287.0,1342.6 289.7,1340.9 289.7,1339.8 292.7,1338.0 292.7,1339.3 294.8,1338.1 294.8,1339.1 297.3,1337.6 297.3,1337.0 300.0,1335.4 300.0,1334.5 302.3,1332.7 302.3,1332.4 305.5,1329.9 305.5,1331.2 308.9,1328.5 308.9,1328.5 312.2,1325.9 312.2,1324.5 313.9,1323.2 313.9,1323.5 316.3,1321.6 316.3,1321.4 319.0,1319.3 319.0,1320.2 320.7,1318.9 320.7,1317.8 323.7,1315.6 323.7,1316.3 327.1,1314.4 327.1,1315.1 329.4,1313.8 329.4,1313.9 331.1,1313.0 331.1,1312.7 333.3,1311.5 333.3,1310.1 335.2,1309.0 335.2,1310.6 337.3,1309.4 337.3,1308.5 339.8,1307.0 339.8,1306.6 341.7,1305.5 341.7,1306.3 344.7,1304.7 344.7,1304.7 348.1,1302.9 348.1,1303.5 351.0,1301.9 351.0,1302.0 354.4,1300.2 354.4,1299.4 355.9,1298.6 355.9,1298.3 358.0,1297.1 358.0,1296.1 360.0,1295.0 360.0,1296.0 362.2,1294.9 362.2,1296.1 365.4,1294.6 365.4,1293.4 368.0,1292.2 368.0,1293.3 370.8,1291.9 370.8,1292.6 374.0,1291.0 374.0,1290.7 376.5,1289.5 376.5,1288.2 379.0,1287.0 379.0,1287.8 381.0,1286.8 381.0,1285.5 382.9,1284.5 382.9,1285.1 385.1,1284.0 385.1,1283.2 387.2,1282.2 387.2,1282.8 390.1,1281.3 390.1,1281.8 392.5,1280.2 392.5,1279.7 394.6,1278.3 394.6,1278.0 397.5,1276.0 397.5,1276.6 400.1,1274.9 400.1,1274.9 403.3,1272.7 403.3,1273.8 405.6,1272.3 405.6,1272.9 408.7,1270.9 408.7,1270.6 412.2,1268.3 412.2,1266.9 415.4,1264.7 415.4,1265.8 417.2,1264.6 417.2,1264.5 418.7,1263.5 418.7,1263.0 420.7,1261.6 420.7,1260.9 423.2,1258.7 423.2,1259.4 426.0,1257.1 426.0,1258.0 428.0,1256.3 428.0,1255.4 430.3,1253.4 430.3,1253.9 432.8,1251.8 432.8,1251.1 436.3,1248.1 436.3,1248.2 438.1,1246.6 438.1,1246.0 439.8,1244.6 439.8,1245.0 442.7,1241.9 442.7,1241.8 445.8,1238.3 445.8,1238.0 447.9,1235.8 447.9,1235.8 450.0,1233.4 450.0,1232.8 452.2,1231.1 452.2,1232.7 454.6,1230.9 454.6,1230.5 458.1,1227.9 458.1,1227.2 460.4,1225.4 460.4,1226.0 463.6,1223.6 463.6,1224.6 465.8,1222.9 465.8,1222.4 468.5,1220.3 468.5,1219.9 471.4,1217.6 471.4,1216.2 473.3,1214.6 473.3,1215.4 475.2,1213.9 475.2,1215.0 477.9,1212.9 477.9,1213.0 480.4,1211.0 480.4,1210.7 483.6,1209.0 483.6,1209.0 487.0,1208.1 487.0,1207.6 490.3,1206.7 490.3,1207.0 493.1,1206.3 493.1,1206.7 494.9,1206.2 494.9,1206.3 496.7,1205.8 496.7,1205.6 499.6,1204.6 499.6,1203.4 501.9,1202.7 501.9,1203.2 504.0,1202.5 504.0,1201.8 506.5,1200.9 506.5,1202.2 508.9,1201.4 508.9,1200.3 511.3,1199.5 511.3,1199.5 514.5,1198.4 514.5,1199.2 516.9,1198.3 516.9,1198.5 519.7,1197.5 519.7,1196.2 522.6,1195.1 522.6,1196.0 525.3,1195.0 525.3,1195.9 527.6,1195.0 527.6,1195.1 530.9,1193.9 530.9,1193.0 533.4,1192.1 533.4,1190.8 535.4,1190.0 535.4,1190.2 536.0,1190.0 536.0,1198.2 535.4,1198.4 535.4,1198.7 533.4,1199.5 533.4,1199.0 530.9,1199.9 530.9,1198.6 527.6,1199.8 527.6,1200.5 525.3,1201.4 525.3,1201.4 522.6,1202.4 522.6,1203.1 519.7,1204.2 519.7,1204.4 516.9,1205.4 516.9,1204.3 514.5,1205.2 514.5,1204.1 511.3,1205.1 511.3,1205.3 508.9,1206.1 508.9,1206.0 506.5,1206.8 506.5,1207.8 504.0,1208.6 504.0,1209.5 501.9,1210.3 501.9,1210.9 499.6,1211.7 499.6,1211.3 496.7,1212.3 496.7,1211.6 494.9,1212.1 494.9,1210.1 493.1,1210.5 493.1,1211.0 490.3,1211.8 490.3,1212.2 487.0,1213.1 487.0,1214.0 483.6,1214.9 483.6,1214.0 480.4,1215.7 480.4,1215.2 477.9,1217.2 477.9,1217.8 475.2,1219.9 475.2,1220.2 473.3,1221.7 473.3,1221.7 471.4,1223.2 471.4,1224.2 468.5,1226.5 468.5,1226.0 465.8,1228.1 465.8,1229.3 463.6,1231.0 463.6,1230.0 460.4,1232.4 460.4,1230.2 458.1,1232.0 458.1,1232.2 454.6,1234.8 454.6,1235.2 452.2,1237.0 452.2,1237.9 450.0,1239.5 450.0,1239.9 447.9,1242.3 447.9,1242.2 445.8,1244.4 445.8,1244.3 442.7,1247.8 442.7,1248.2 439.8,1251.3 439.8,1252.0 438.1,1253.4 438.1,1252.5 436.3,1254.1 436.3,1254.4 432.8,1257.4 432.8,1258.2 430.3,1260.3 430.3,1259.1 428.0,1261.1 428.0,1261.6 426.0,1263.3 426.0,1264.1 423.2,1266.5 423.2,1265.0 420.7,1267.2 420.7,1267.4 418.7,1268.8 418.7,1269.7 417.2,1270.7 417.2,1269.8 415.4,1271.0 415.4,1270.6 412.2,1272.7 412.2,1274.2 408.7,1276.5 408.7,1275.9 405.6,1278.0 405.6,1278.7 403.3,1280.2 403.3,1279.0 400.1,1281.1 400.1,1280.9 397.5,1282.7 397.5,1284.0 394.6,1285.9 394.6,1285.3 392.5,1286.6 392.5,1287.3 390.1,1288.9 390.1,1287.5 387.2,1288.9 387.2,1290.5 385.1,1291.5 385.1,1292.0 382.9,1293.0 382.9,1292.6 381.0,1293.5 381.0,1293.5 379.0,1294.5 379.0,1294.2 376.5,1295.4 376.5,1294.5 374.0,1295.8 374.0,1296.3 370.8,1297.8 370.8,1296.6 368.0,1298.0 368.0,1297.9 365.4,1299.1 365.4,1300.3 362.2,1301.9 362.2,1300.8 360.0,1301.9 360.0,1303.0 358.0,1304.1 358.0,1304.5 355.9,1305.7 355.9,1305.1 354.4,1305.9 354.4,1305.2 351.0,1307.0 351.0,1308.0 348.1,1309.6 348.1,1311.0 344.7,1312.9 344.7,1312.6 341.7,1314.3 341.7,1313.3 339.8,1314.3 339.8,1313.5 337.3,1314.9 337.3,1314.7 335.2,1315.8 335.2,1316.6 333.3,1317.7 333.3,1318.0 331.1,1319.2 331.1,1318.9 329.4,1319.9 329.4,1319.1 327.1,1320.4 327.1,1321.6 323.7,1323.5 323.7,1321.9 320.7,1324.1 320.7,1325.4 319.0,1326.7 319.0,1325.5 316.3,1327.6 316.3,1327.3 313.9,1329.2 313.9,1330.3 312.2,1331.6 312.2,1332.4 308.9,1334.9 308.9,1335.3 305.5,1338.0 305.5,1337.2 302.3,1339.7 302.3,1339.0 300.0,1340.8 300.0,1341.3 297.3,1342.9 297.3,1342.4 294.8,1343.9 294.8,1343.2 292.7,1344.5 292.7,1345.4 289.7,1347.2 289.7,1345.9 287.0,1347.5 287.0,1348.3 284.4,1349.9 284.4,1351.1 282.6,1352.2 282.6,1351.8 279.6,1353.6 279.6,1352.3 277.6,1353.5 277.6,1354.2 275.8,1355.2 275.8,1355.0 272.6,1357.0 272.6,1357.5 269.7,1359.2 269.7,1359.9 266.9,1361.6 266.9,1362.2 264.2,1363.7 264.2,1363.4 261.1,1365.2 261.1,1363.9 257.8,1365.9 257.8,1366.0 255.6,1367.3 255.6,1369.0 252.3,1370.9 252.3,1370.8 249.7,1372.2 249.7,1372.3 247.3,1373.6 247.3,1373.1 244.8,1374.4 244.8,1373.4 243.2,1374.3 243.2,1375.2 240.4,1377.2 240.4,1376.8 238.4,1378.2 238.4,1377.2 236.7,1378.4 236.7,1379.0 234.4,1381.1 234.4,1381.6 230.9,1385.1 230.9,1384.4 227.4,1389.3 227.4,1391.0 225.7,1394.5 225.7,1393.4 223.0,1397.7 223.0,1398.1 220.4,1400.7 220.4,1401.4 217.7,1404.1 217.7,1403.2 216.0,1404.2 216.0,1402.9 214.2,1403.6 214.2,1404.9 211.3,1406.0 211.3,1407.2 209.2,1408.1 209.2,1407.7 205.9,1409.1 205.9,1409.0 203.3,1410.0 203.3,1408.8 200.8,1409.8 200.8,1410.7 198.8,1411.5 198.8,1411.1 195.8,1412.2 195.8,1411.8 193.1,1413.3 193.1,1414.4 191.0,1416.6 191.0,1416.4 189.0,1418.3 189.0,1417.0 185.6,1419.6 185.6,1419.3 183.3,1420.2 183.3,1420.3 180.8,1421.2 180.8,1422.2 178.3,1423.1 178.3,1423.5 175.1,1423.9 175.1,1424.4 172.2,1424.4 172.2,1424.5 169.1,1424.5 169.1,1424.5 167.3,1424.5 167.3,1425.4 165.1,1425.6 165.1,1425.4 163.3,1426.0 163.3,1425.6 161.3,1426.2 161.3,1425.5 158.1,1426.5 158.1,1426.2 156.0,1426.8 156.0,1425.3 154.0,1425.9 154.0,1427.2 152.0,1428.4 152.0,1428.2 149.0,1430.0 149.0,1430.9 146.8,1432.2 146.8,1432.1 143.6,1434.0 143.6,1433.9 140.5,1435.8 140.5,1436.1 138.4,1437.4 138.4,1436.9 136.1,1438.3 136.1,1436.9 134.0,1438.1 134.0,1437.4 132.0,1438.6 132.0,1439.2 129.6,1440.7 129.6,1441.0 126.6,1442.8 126.6,1442.8 124.5,1444.1 124.5,1445.6 121.4,1447.4 121.4,1447.1 119.6,1448.2 119.6,1447.0 116.6,1448.8 116.6,1449.4 114.6,1450.6 114.6,1450.3 112.0,1451.9 112.0,1452.2 110.1,1453.3 110.1,1452.9 107.3,1454.6 107.3,1455.2 104.2,1457.0 104.2,1456.9 102.2,1458.0 102.2,1456.7 99.2,1458.4 99.2,1459.6 97.1,1460.7 97.1,1459.5 95.5,1460.5 95.5,1461.1 92.1,1463.0 92.1,1463.5 88.8,1465.4 88.8,1466.1 86.2,1466.4" fill="#ee8018" />
<polyline points="86.2,1462.3 556.7,1171.5" fill="none" stroke="#2a98a8" stroke-width="2.8" stroke-linejoin="round" stroke-linecap="round" />
<polyline points="86.2,1462.3 549.5,1177.8" fill="none" stroke="#8b1a1a" stroke-width="2.4" stroke-linejoin="round" stroke-linecap="round" />
<polyline points="86.2,1462.3 563.6,1180.6" fill="none" stroke="#3b1f6b" stroke-width="2.6" stroke-linejoin="round" stroke-linecap="round" />
<polyline points="86.2,1462.3 536.6,1193.4" fill="none" stroke="#ec7e1a" stroke-width="2.4" stroke-linejoin="round" stroke-linecap="round" />
</g>
<rect x="289.0" y="1145.2" width="77.8" height="22.7" fill="none" stroke="#404040" stroke-width="1.3"/>
<text x="328.0" y="1161.4" font-size="13.6" fill="#1a8496" stroke="#1a8496" stroke-width="0.25" font-weight="bold" text-anchor="middle" textLength="70.6" lengthAdjust="spacingAndGlyphs" >E = 5.06 GPa</text>
<rect x="289.0" y="1172.5" width="77.8" height="22.9" fill="none" stroke="#404040" stroke-width="1.3"/>
<text x="328.0" y="1189.0" font-size="13.6" fill="#861616" stroke="#861616" stroke-width="0.25" font-weight="bold" text-anchor="middle" textLength="70.6" lengthAdjust="spacingAndGlyphs" >E = 5.03 GPa</text>
<rect x="289.0" y="1199.8" width="77.8" height="23.2" fill="none" stroke="#404040" stroke-width="1.3"/>
<text x="328.0" y="1216.3" font-size="13.6" fill="#e07820" stroke="#e07820" stroke-width="0.25" font-weight="bold" text-anchor="middle" textLength="70.6" lengthAdjust="spacingAndGlyphs" >E = 4.89 GPa</text>
<rect x="289.0" y="1227.1" width="77.8" height="22.5" fill="none" stroke="#404040" stroke-width="1.3"/>
<text x="328.0" y="1243.5" font-size="13.6" fill="#2a1858" stroke="#2a1858" stroke-width="0.25" font-weight="bold" text-anchor="middle" textLength="70.6" lengthAdjust="spacingAndGlyphs" >E = 4.83 GPa</text>
<rect x="571.9" y="1086.1" width="51.5" height="122.3" fill="#fff" stroke="#404040" stroke-width="1.3"/>
<line x1="580.7" y1="1102.3" x2="598.0" y2="1102.3" stroke="#8b1a1a" stroke-width="2.2"/>
<rect x="587" y="1099.8" width="5" height="5" fill="#8b1a1a"/>
<text x="600.4" y="1108.2" font-size="16.3" fill="#000" stroke="#000" stroke-width="0.45" textLength="14.6" lengthAdjust="spacingAndGlyphs" >T1</text>
<line x1="580.7" y1="1132.3" x2="598.0" y2="1132.3" stroke="#2e1a5e" stroke-width="2.2"/>
<rect x="587.5" y="1130.3" width="4" height="4" fill="#2e1a5e" transform="rotate(45 589.5 1132.3)"/>
<text x="600.4" y="1138.2" font-size="16.3" fill="#000" stroke="#000" stroke-width="0.45" textLength="14.6" lengthAdjust="spacingAndGlyphs" >T2</text>
<line x1="580.7" y1="1162.1" x2="598.0" y2="1162.1" stroke="#2a9aa8" stroke-width="2.2"/>
<path d="M586.5,1159.1 L592.5,1165.1 M592.5,1159.1 L586.5,1165.1" stroke="#2a9aa8" stroke-width="1.2"/>
<text x="600.4" y="1168.0" font-size="16.3" fill="#000" stroke="#000" stroke-width="0.45" textLength="14.6" lengthAdjust="spacingAndGlyphs" >T3</text>
<line x1="580.7" y1="1192.8" x2="598.0" y2="1192.8" stroke="#ea8020" stroke-width="3.5"/>
<text x="600.4" y="1199.1" font-size="16.3" fill="#000" stroke="#000" stroke-width="0.45" textLength="14.6" lengthAdjust="spacingAndGlyphs" >T4</text>
</g></svg>
</body></html>
